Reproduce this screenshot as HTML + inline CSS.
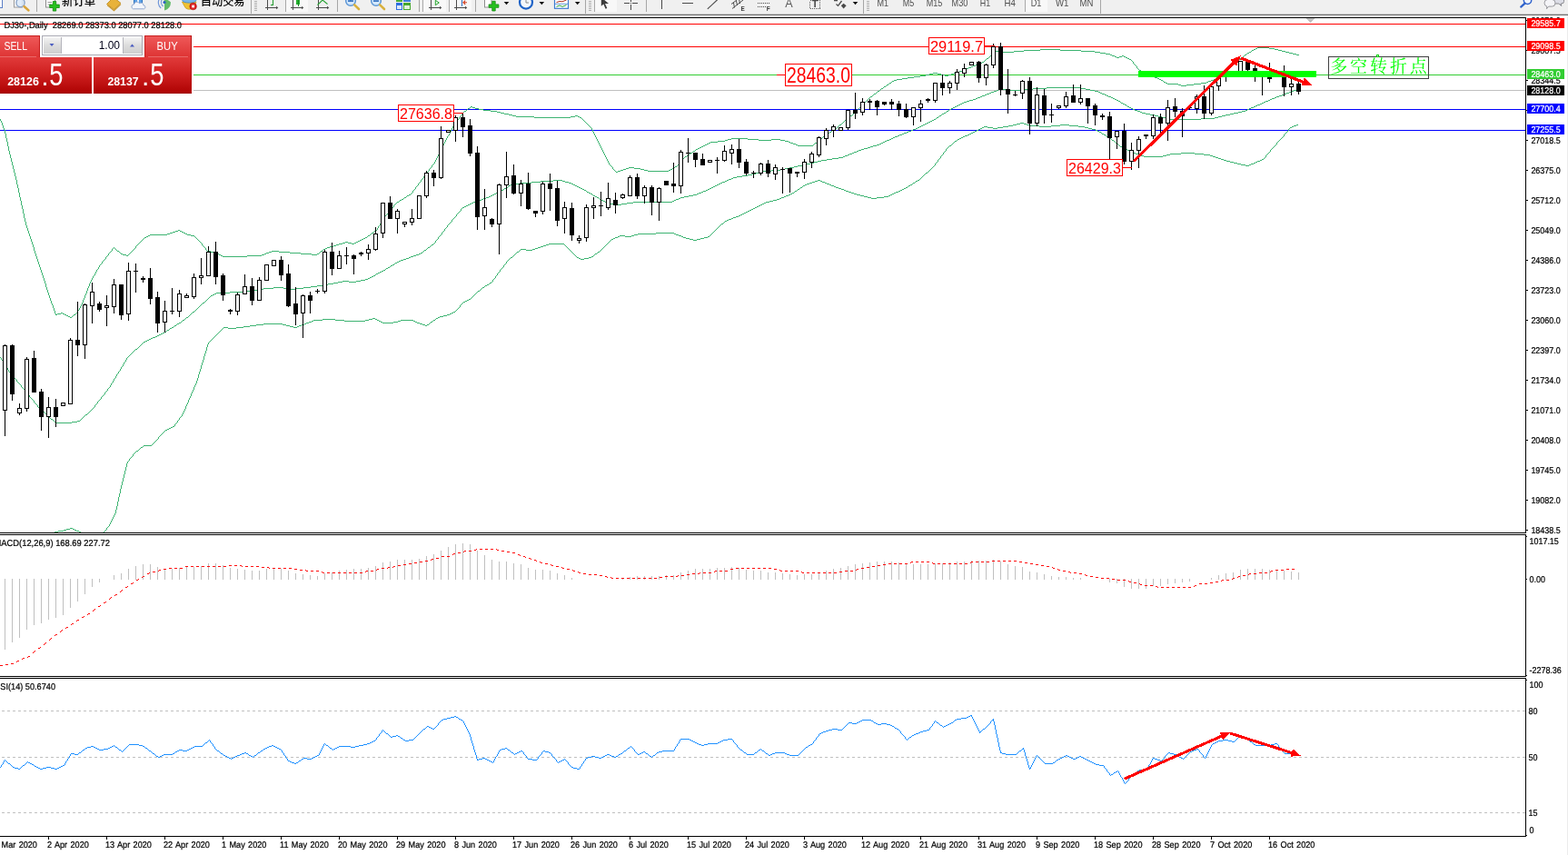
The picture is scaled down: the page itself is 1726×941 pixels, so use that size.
<!DOCTYPE html>
<html lang="zh"><head><meta charset="utf-8"><title>DJ30 Daily</title>
<style>html,body{margin:0;padding:0;background:#fff;}body{width:1726px;height:941px;overflow:hidden;position:relative;font-family:"Liberation Sans","Noto Sans CJK SC",sans-serif;}svg{display:block}</style>
</head><body>
<svg width="1726" height="941" viewBox="0 0 1726 941" style="position:absolute;left:0;top:0">
<defs><clipPath id="cm"><rect x="0" y="20" width="1679" height="566"/></clipPath><linearGradient id="rb" x1="0" y1="0" x2="0" y2="1"><stop offset="0" stop-color="#e13a3a"/><stop offset="0.45" stop-color="#cf2020"/><stop offset="1" stop-color="#ad0202"/></linearGradient><linearGradient id="rt" x1="0" y1="0" x2="0" y2="1"><stop offset="0" stop-color="#ef5a5a"/><stop offset="1" stop-color="#dd3232"/></linearGradient><linearGradient id="gb" x1="0" y1="0" x2="0" y2="1"><stop offset="0" stop-color="#f4f4f4"/><stop offset="0.5" stop-color="#dcdcdc"/><stop offset="1" stop-color="#cfcfcf"/></linearGradient></defs>
<rect x="0" y="0" width="1726" height="941" fill="#fff"/>
<g id="toolbar">
<rect x="0" y="0" width="1726" height="15" fill="#f0f0f0"/>
<rect x="315" y="0" width="24" height="13" fill="#f8f8f8" shape-rendering="crispEdges"/>
<rect x="314" y="0" width="1" height="13" fill="#a8a8a8" shape-rendering="crispEdges"/>
<rect x="466" y="0" width="25" height="13" fill="#f8f8f8" shape-rendering="crispEdges"/>
<rect x="465" y="0" width="1" height="13" fill="#a8a8a8" shape-rendering="crispEdges"/>
<rect x="495" y="0" width="24" height="13" fill="#f8f8f8" shape-rendering="crispEdges"/>
<rect x="494" y="0" width="1" height="13" fill="#a8a8a8" shape-rendering="crispEdges"/>
<rect x="655" y="0" width="24" height="13" fill="#f8f8f8" shape-rendering="crispEdges"/>
<rect x="654" y="0" width="1" height="13" fill="#a8a8a8" shape-rendering="crispEdges"/>
<rect x="1129" y="0" width="24" height="13" fill="#f8f8f8" shape-rendering="crispEdges"/>
<rect x="1128" y="0" width="1" height="13" fill="#a8a8a8" shape-rendering="crispEdges"/>
<g fill="#a6a6a6" shape-rendering="crispEdges">
<rect x="40" y="0" width="1" height="13"/>
<rect x="371" y="0" width="1" height="13"/>
<rect x="461" y="0" width="1" height="13"/>
<rect x="523" y="0" width="1" height="13"/>
<rect x="711" y="0" width="1" height="13"/>
<rect x="276" y="0" width="1" height="15"/>
<rect x="644" y="0" width="1" height="15"/>
<rect x="950" y="0" width="1" height="15"/>
<rect x="1211" y="0" width="1" height="15"/>
<rect x="280" y="1" width="3" height="1" fill="#b0b0b0"/>
<rect x="280" y="3" width="3" height="1" fill="#b0b0b0"/>
<rect x="280" y="5" width="3" height="1" fill="#b0b0b0"/>
<rect x="280" y="7" width="3" height="1" fill="#b0b0b0"/>
<rect x="280" y="9" width="3" height="1" fill="#b0b0b0"/>
<rect x="280" y="11" width="3" height="1" fill="#b0b0b0"/>
<rect x="648" y="1" width="3" height="1" fill="#b0b0b0"/>
<rect x="648" y="3" width="3" height="1" fill="#b0b0b0"/>
<rect x="648" y="5" width="3" height="1" fill="#b0b0b0"/>
<rect x="648" y="7" width="3" height="1" fill="#b0b0b0"/>
<rect x="648" y="9" width="3" height="1" fill="#b0b0b0"/>
<rect x="648" y="11" width="3" height="1" fill="#b0b0b0"/>
<rect x="954" y="1" width="3" height="1" fill="#b0b0b0"/>
<rect x="954" y="3" width="3" height="1" fill="#b0b0b0"/>
<rect x="954" y="5" width="3" height="1" fill="#b0b0b0"/>
<rect x="954" y="7" width="3" height="1" fill="#b0b0b0"/>
<rect x="954" y="9" width="3" height="1" fill="#b0b0b0"/>
<rect x="954" y="11" width="3" height="1" fill="#b0b0b0"/>
</g>
<rect x="-2" y="-2" width="4.5" height="10.5" fill="#fff" stroke="#5b7fc7" stroke-width="1"/>
<rect x="15.5" y="-3" width="9" height="11" fill="#fdfdfd" stroke="#9a9a9a" stroke-width="1"/>
<circle cx="22.5" cy="3" r="4.6" fill="#dbe9f8" fill-opacity="0.85" stroke="#8aa4c8" stroke-width="1.4"/>
<line x1="26.5" y1="7" x2="31.5" y2="11.5" stroke="#d9a43a" stroke-width="2.4" stroke-linecap="round"/>
<rect x="50.5" y="-3" width="10" height="11" fill="#fff" stroke="#8d8d8d" stroke-width="1"/>
<line x1="52.5" y1="2.5" x2="57" y2="2.5" stroke="#9a9a9a" stroke-width="1"/><line x1="52.5" y1="5" x2="56" y2="5" stroke="#9a9a9a" stroke-width="1"/>
<path d="M58.3 1.5h3.4v3.6h3.6v3.4h-3.6v3.6h-3.4v-3.6h-3.6v-3.4h3.6z" fill="#27c11f" stroke="#128a0e" stroke-width="0.8"/>
<text x="68" y="5.6" font-family="Liberation Sans, Noto Sans CJK SC, sans-serif" font-size="12.4" font-weight="500" fill="#000">新订单</text>
<path d="M117.5 4.5 L125 -3 L133 3.5 L125.5 10.5 Z" fill="#e8b23a" stroke="#b98718" stroke-width="0.8"/>
<path d="M118 5.6 L125.5 11.6 L133 4.6" fill="none" stroke="#c8952a" stroke-width="1.2"/>
<rect x="147.5" y="-3" width="9" height="7" fill="#5aa0e6" stroke="#2f73c0" stroke-width="1"/><rect x="151" y="-2" width="2" height="5" fill="#eaf3fd"/>
<path d="M146.5 9.8 a2.6 2.6 0 0 1 1-5 a3.2 3.2 0 0 1 6-1 a2.6 2.6 0 0 1 4.4 2 a2.1 2.1 0 0 1 0.8 4 z" fill="#f3f6fb" stroke="#8fa7cf" stroke-width="1"/>
<path d="M176 -2 a8 8 0 0 0 1.2 11" fill="none" stroke="#6f95d8" stroke-width="1.2"/><path d="M178.6 -1 a6 6 0 0 0 1 8" fill="none" stroke="#6f95d8" stroke-width="1.2"/>
<path d="M181 11.5 v-9 a3 3 0 0 1 0 -3 a9 9 0 0 1 7 3 a9.5 9.5 0 0 1 -7 9 z" fill="#3fae49" fill-opacity="0.8"/>
<circle cx="181" cy="2.5" r="1.6" fill="#2b62c4"/>
<path d="M200.5 2 L216 2 L213 8.5 Q208 12 204 8.5 Z" fill="#f1c232" stroke="#c99a17" stroke-width="0.8"/>
<ellipse cx="208.3" cy="0.5" rx="7.5" ry="2.6" fill="#79b6ea" stroke="#3f86cc" stroke-width="0.8"/>
<circle cx="212.6" cy="7" r="3.8" fill="#e02424" stroke="#a30f0f" stroke-width="0.6"/><rect x="211.2" y="5.6" width="2.8" height="2.8" fill="#fff"/>
<text x="220.8" y="5.6" font-family="Liberation Sans, Noto Sans CJK SC, sans-serif" font-size="12.2" font-weight="500" fill="#000">自动交易</text>
<g shape-rendering="crispEdges" fill="#4a4a4a"><rect x="294" y="0" width="1" height="11"/><rect x="292" y="8" width="13" height="1"/></g>
<polygon points="304,6.8 306.3,8.5 304,10.2" fill="#4a4a4a"/>
<g shape-rendering="crispEdges" fill="#1d9a2a"><rect x="300" y="0" width="1" height="6"/><rect x="298" y="5" width="3" height="1"/></g>
<g shape-rendering="crispEdges" fill="#4a4a4a"><rect x="322" y="0" width="1" height="11"/><rect x="320" y="8" width="13" height="1"/></g>
<polygon points="332,6.8 334.3,8.5 332,10.2" fill="#4a4a4a"/>
<g shape-rendering="crispEdges"><rect x="326" y="0" width="4" height="5" fill="#25b230" stroke="none"/><rect x="327.5" y="0" width="1" height="7" fill="#1d8a26"/></g>
<g shape-rendering="crispEdges" fill="#4a4a4a"><rect x="350" y="0" width="1" height="11"/><rect x="348" y="8" width="13" height="1"/></g>
<polygon points="360,6.8 362.3,8.5 360,10.2" fill="#4a4a4a"/>
<polyline points="349.5,5.5 355,0 360.5,4.5" fill="none" stroke="#2aa336" stroke-width="1.1"/>
<circle cx="386" cy="1" r="5.3" fill="#d4e8fb" stroke="#5e97d6" stroke-width="1.5"/>
<rect x="383" y="0.2" width="6" height="1.8" fill="#3c78c4"/>
<rect x="385.1" y="-2" width="1.8" height="4" fill="#3c78c4"/>
<line x1="390.2" y1="5.4" x2="395" y2="10" stroke="#d8b13e" stroke-width="2.6" stroke-linecap="round"/>
<circle cx="414" cy="1" r="5.3" fill="#d4e8fb" stroke="#5e97d6" stroke-width="1.5"/>
<rect x="411" y="0.2" width="6" height="1.8" fill="#3c78c4"/>
<line x1="418.2" y1="5.4" x2="423" y2="10" stroke="#d8b13e" stroke-width="2.6" stroke-linecap="round"/>
<g shape-rendering="crispEdges"><rect x="436" y="-3" width="7" height="5" fill="#4fae3a"/><rect x="444" y="-3" width="8" height="5" fill="#3f7fe0"/><rect x="436" y="3" width="7" height="8" fill="#2f6fe0"/><rect x="444" y="3" width="8" height="8" fill="#46a62e"/><rect x="437" y="6" width="5" height="4" fill="#dfe9fb"/><rect x="445" y="6" width="6" height="4" fill="#e3f3dc"/></g>
<g shape-rendering="crispEdges" fill="#4a4a4a"><rect x="474" y="0" width="1" height="11"/><rect x="472" y="8" width="13" height="1"/></g>
<polygon points="484,6.8 486.3,8.5 484,10.2" fill="#4a4a4a"/>
<polygon points="479.3,0.3 483.3,3 479.3,5.7" fill="#e9f7e6" stroke="#25a32f" stroke-width="1"/>
<g shape-rendering="crispEdges" fill="#4a4a4a"><rect x="502" y="0" width="1" height="11"/><rect x="500" y="8" width="13" height="1"/></g>
<polygon points="512,6.8 514.3,8.5 512,10.2" fill="#4a4a4a"/>
<rect x="508" y="0" width="1" height="7" fill="#2f6fc0" shape-rendering="crispEdges"/><path d="M514 2.7 H510.6 M512.2 0.6 L510 2.7 L512.2 4.8" fill="none" stroke="#d33a1a" stroke-width="1.1"/>
<rect x="533.5" y="-3" width="7.5" height="11" fill="#fff" stroke="#8d8d8d" stroke-width="1"/>
<path d="M541.8 1.3h3.4v3.6h3.7v3.4h-3.7v3.7h-3.4v-3.7h-3.7v-3.4h3.7z" fill="#27c11f" stroke="#128a0e" stroke-width="0.8"/>
<polygon points="554.7,2 560.3000000000001,2 557.5,5.2" fill="#101010"/>
<polygon points="593.5,2 599.1,2 596.3,5.2" fill="#101010"/>
<polygon points="632.9,2 638.5,2 635.6999999999999,5.2" fill="#101010"/>
<polygon points="938.7,2 944.3000000000001,2 941.5,5.2" fill="#101010"/>
<circle cx="579" cy="2.6" r="7" fill="#f4f7fb" stroke="#1f63c7" stroke-width="2.2"/><path d="M579 -1 V3 H582" fill="none" stroke="#8a8a8a" stroke-width="1"/>
<rect x="610.5" y="-3" width="15" height="12.3" fill="#fff" stroke="#3d7bd0" stroke-width="1.2"/><line x1="611" y1="4.3" x2="625" y2="4.3" stroke="#3d7bd0" stroke-width="0.8"/>
<polyline points="612.5,2.6 616,1.5 619,1.8 623.5,0" fill="none" stroke="#b0301c" stroke-width="1"/><polyline points="612.5,7.4 616,6 619,7.3 623.5,5.6" fill="none" stroke="#2aa336" stroke-width="1"/>
<path d="M661.8 -3 L661.8 6.8 L664.3 4.6 L666.6 9.8 L668.3 9 L666 4 L670 4 Z" fill="#3c3c3c"/>
<g shape-rendering="crispEdges" fill="#4a4a4a"><rect x="687" y="3" width="15" height="1"/><rect x="694" y="0" width="1" height="11"/><rect x="728" y="0" width="1" height="10"/><rect x="751" y="3" width="12" height="1"/></g>
<rect x="693" y="2" width="3" height="3" fill="#f0f0f0"/><rect x="694" y="3" width="1" height="1" fill="#4a4a4a"/>
<line x1="778.8" y1="9.8" x2="789.6" y2="-0.2" stroke="#4a4a4a" stroke-width="1.1"/>
<g stroke="#4a4a4a" stroke-width="1" fill="none"><line x1="805" y1="4.5" x2="813" y2="-1.5"/><line x1="806" y1="9.5" x2="818" y2="0"/><line x1="807.5" y1="3" x2="808.5" y2="8.5"/><line x1="810.5" y1="1" x2="811.5" y2="6"/><line x1="813.5" y1="-1" x2="814.5" y2="4"/></g>
<text x="815.6" y="11.8" font-family="Liberation Sans, Noto Sans CJK SC, sans-serif" font-size="6.4" font-weight="bold" fill="#3a3a3a">E</text>
<g stroke="#4a4a4a" stroke-width="1" stroke-dasharray="1,1" shape-rendering="crispEdges"><line x1="834" y1="3.5" x2="847" y2="3.5"/><line x1="834" y1="7.5" x2="843" y2="7.5"/></g>
<text x="843.7" y="11.8" font-family="Liberation Sans, Noto Sans CJK SC, sans-serif" font-size="6.4" font-weight="bold" fill="#3a3a3a">F</text>
<text x="864.2" y="7.5" font-family="Liberation Sans, Noto Sans CJK SC, sans-serif" font-size="12.6" fill="#5a5a5a">A</text>
<rect x="891.5" y="0.5" width="11" height="9" fill="none" stroke="#5a5a5a" stroke-width="1" stroke-dasharray="1,1" shape-rendering="crispEdges"/>
<text x="897" y="7.6" font-family="Liberation Sans, Noto Sans CJK SC, sans-serif" font-size="11" font-weight="bold" fill="#4a4a4a" text-anchor="middle">T</text>
<path d="M918 0.5 L922 0.5 M920.5 4.6 L922.5 6.4 L926.5 1" fill="none" stroke="#4a4a4a" stroke-width="1.3"/><polygon points="925.8,6.2 928.6,3.8 931.6,6.2 928.6,9.4" fill="#4a4a4a"/>
<text x="965.5" y="7" font-family="Liberation Sans, Noto Sans CJK SC, sans-serif" font-size="11" fill="#4e4e4e" textLength="12.6" lengthAdjust="spacingAndGlyphs">M1</text>
<text x="993.7" y="7" font-family="Liberation Sans, Noto Sans CJK SC, sans-serif" font-size="11" fill="#4e4e4e" textLength="12.4" lengthAdjust="spacingAndGlyphs">M5</text>
<text x="1019.7" y="7" font-family="Liberation Sans, Noto Sans CJK SC, sans-serif" font-size="11" fill="#4e4e4e" textLength="17.6" lengthAdjust="spacingAndGlyphs">M15</text>
<text x="1047.6" y="7" font-family="Liberation Sans, Noto Sans CJK SC, sans-serif" font-size="11" fill="#4e4e4e" textLength="17.7" lengthAdjust="spacingAndGlyphs">M30</text>
<text x="1078.7" y="7" font-family="Liberation Sans, Noto Sans CJK SC, sans-serif" font-size="11" fill="#4e4e4e" textLength="11.4" lengthAdjust="spacingAndGlyphs">H1</text>
<text x="1105.6" y="7" font-family="Liberation Sans, Noto Sans CJK SC, sans-serif" font-size="11" fill="#4e4e4e" textLength="12.3" lengthAdjust="spacingAndGlyphs">H4</text>
<text x="1134.7" y="7" font-family="Liberation Sans, Noto Sans CJK SC, sans-serif" font-size="11" fill="#4e4e4e" textLength="11.7" lengthAdjust="spacingAndGlyphs">D1</text>
<text x="1161.9" y="7" font-family="Liberation Sans, Noto Sans CJK SC, sans-serif" font-size="11" fill="#4e4e4e" textLength="14.5" lengthAdjust="spacingAndGlyphs">W1</text>
<text x="1188.5" y="7" font-family="Liberation Sans, Noto Sans CJK SC, sans-serif" font-size="11" fill="#4e4e4e" textLength="14.8" lengthAdjust="spacingAndGlyphs">MN</text>
<circle cx="1681.5" cy="0.3" r="4.2" fill="#f0f4fb" stroke="#2f62cc" stroke-width="1.5"/><line x1="1678.6" y1="3.6" x2="1674.2" y2="7.6" stroke="#2f62cc" stroke-width="2.2" stroke-linecap="round"/>
<path d="M1709 -3 h10 a2.5 2.5 0 0 1 2.5 2.5 v2 a2.5 2.5 0 0 1 -2.5 2.5 h-1 l0.8 2.5 l-3 -2.5 h-6.8 z" fill="#dcdde6" stroke="#7f7f84" stroke-width="0.9"/>
<path d="M1703.5 -0.5 h5 a3.4 3.4 0 0 1 3.4 3.4 v0.8 a3.4 3.4 0 0 1 -3.4 3.4 h-3.8 l-2.2 2.6 l0.3 -2.7 a3.4 3.4 0 0 1 -2.7 -3.3 v-0.8 a3.4 3.4 0 0 1 3.4 -3.4 z" fill="#f4f4f7" stroke="#8f8f94" stroke-width="0.9"/>
<rect x="0" y="15" width="1726" height="1" fill="#c6c6c6" shape-rendering="crispEdges"/>
<rect x="0" y="16" width="1726" height="1" fill="#6e6e6e" shape-rendering="crispEdges"/>
</g>
<g shape-rendering="crispEdges">
<rect x="1725" y="17" width="1" height="924" fill="#ececec"/>
<rect x="0" y="19" width="1680" height="1" fill="#000"/>
<rect x="0" y="586" width="1680" height="1" fill="#000"/>
<rect x="0" y="588" width="1680" height="1" fill="#000"/>
<rect x="0" y="744" width="1680" height="1" fill="#000"/>
<rect x="0" y="746" width="1680" height="1" fill="#000"/>
<rect x="0" y="920" width="1680" height="1" fill="#000"/>
<rect x="1679" y="19" width="1" height="568" fill="#000"/>
<rect x="1679" y="588" width="1" height="157" fill="#000"/>
<rect x="1679" y="746" width="1" height="175" fill="#000"/>
<rect x="0" y="26" width="1679" height="1" fill="#ff0000"/>
<rect x="0" y="51" width="1679" height="1" fill="#ff0000"/>
<rect x="0" y="82" width="1679" height="1" fill="#32cd32"/>
<rect x="855" y="82" width="10" height="1" fill="#ff0000"/>
<rect x="0" y="99" width="1679" height="1" fill="#c0c0c0"/>
<rect x="0" y="120" width="1679" height="1" fill="#0000ff"/>
<rect x="0" y="143" width="1679" height="1" fill="#0000ff"/>
<polygon points="1437,20 1447,20 1442,25" fill="#c0c0c0"/>
</g>
<path d="M1384 52.5h13M1382 53.5h2M1397 53.5h6M1145 54.5h22M1380 54.5h2M1403 54.5h4M1127 55.5h18M1167 55.5h23M1378 55.5h2M1407 55.5h4M1095 56.5h8M1116 56.5h11M1190 56.5h15M1411 56.5h4M1103 57.5h13M1205 57.5h6M1375 57.5h2M1415 57.5h4M1211 58.5h6M1373 58.5h2M1419 58.5h4M1217 59.5h5M1423 59.5h4M1222 60.5h2M1370 60.5h2M1427 60.5h3M1224 61.5h3M1235 61.5h2M1227 62.5h2M1232 62.5h3M1237 62.5h2M1229 63.5h3M1239 63.5h2M1366 63.5h2M1086 64.5h2M1241 64.5h2M1243 65.5h2M1081 68.5h2M1360 68.5h2M1079 69.5h2M1076 70.5h3M1074 71.5h2M1071 72.5h3M1069 73.5h2M1354 73.5h2M1066 74.5h3M1064 75.5h2M1061 76.5h3M1059 77.5h2M1254 77.5h2M1056 78.5h3M1348 78.5h2M1053 79.5h3M1027 80.5h5M1050 80.5h3M1258 80.5h2M1023 81.5h4M1032 81.5h4M1047 81.5h3M1260 81.5h2M1019 82.5h4M1036 82.5h4M1044 82.5h3M1262 82.5h3M1013 83.5h6M1040 83.5h4M1265 83.5h3M1342 83.5h2M1006 84.5h7M1268 84.5h3M999 85.5h7M1271 85.5h3M993 86.5h6M1274 86.5h2M1338 86.5h2M987 87.5h6M1276 87.5h2M1336 87.5h2M984 88.5h3M1278 88.5h2M1333 88.5h3M982 89.5h2M1330 89.5h3M1281 90.5h2M1328 90.5h2M979 91.5h2M1283 91.5h2M1322 91.5h6M1285 92.5h12M1314 92.5h8M976 93.5h2M1297 93.5h3M1306 93.5h8M1300 94.5h6M973 95.5h2M1152 96.5h38M970 97.5h2M1137 97.5h15M1190 97.5h5M1099 98.5h12M1127 98.5h10M1195 98.5h5M1427 98.5h2M1097 99.5h2M1111 99.5h16M1200 99.5h5M1424 99.5h3M966 100.5h2M1094 100.5h3M1205 100.5h4M1421 100.5h3M1091 101.5h3M1209 101.5h2M1419 101.5h2M1089 102.5h2M1211 102.5h2M1416 102.5h3M962 103.5h2M1086 103.5h3M1213 103.5h3M1413 103.5h3M1084 104.5h2M1216 104.5h2M1411 104.5h2M1081 105.5h3M1218 105.5h2M1408 105.5h3M958 106.5h2M1079 106.5h2M1220 106.5h3M1405 106.5h3M1076 107.5h3M1223 107.5h2M1403 107.5h2M1074 108.5h2M1225 108.5h2M1400 108.5h3M1071 109.5h3M1227 109.5h2M1398 109.5h2M1067 110.5h4M1229 110.5h2M1396 110.5h2M1064 111.5h3M1231 111.5h2M1393 111.5h3M1061 112.5h3M1391 112.5h2M1059 113.5h2M1234 113.5h2M1389 113.5h2M1057 114.5h2M1236 114.5h2M1387 114.5h2M1055 115.5h2M1238 115.5h2M1384 115.5h3M1053 116.5h2M1382 116.5h2M518 117.5h2M1051 117.5h2M1241 117.5h2M1380 117.5h2M520 118.5h3M1049 118.5h2M1243 118.5h2M1377 118.5h3M515 119.5h2M523 119.5h4M1047 119.5h2M1245 119.5h2M1375 119.5h2M527 120.5h5M1045 120.5h2M1247 120.5h2M1373 120.5h2M532 121.5h8M1249 121.5h3M1371 121.5h2M511 122.5h2M540 122.5h7M1042 122.5h2M1252 122.5h3M1367 122.5h4M547 123.5h4M1255 123.5h2M1363 123.5h4M551 124.5h4M1039 124.5h2M1257 124.5h4M1358 124.5h5M555 125.5h5M1037 125.5h2M1261 125.5h5M1354 125.5h4M560 126.5h4M1266 126.5h5M1349 126.5h5M564 127.5h4M633 127.5h3M936 127.5h2M1034 127.5h2M1271 127.5h4M1345 127.5h4M568 128.5h20M628 128.5h5M636 128.5h2M1275 128.5h4M1341 128.5h4M588 129.5h40M638 129.5h2M1031 129.5h2M1279 129.5h4M1337 129.5h4M1283 130.5h4M1322 130.5h15M1028 131.5h2M1287 131.5h35M930 132.5h2M1026 132.5h2M1024 133.5h2M1022 134.5h2M1020 135.5h2M1123 135.5h4M1018 136.5h2M1119 136.5h4M1127 136.5h3M924 137.5h2M1016 137.5h2M1115 137.5h4M1130 137.5h4M1167 137.5h10M1427 137.5h2M1014 138.5h2M1110 138.5h5M1134 138.5h10M1157 138.5h10M1177 138.5h10M1424 138.5h3M1012 139.5h2M1083 139.5h4M1104 139.5h6M1144 139.5h13M1187 139.5h7M1422 139.5h2M1010 140.5h2M1081 140.5h2M1087 140.5h6M1098 140.5h6M1194 140.5h4M1420 140.5h2M919 141.5h2M1008 141.5h2M1079 141.5h2M1093 141.5h5M1198 141.5h4M1005 142.5h3M1077 142.5h2M1202 142.5h4M916 143.5h2M1003 143.5h2M1075 143.5h2M1206 143.5h2M1000 144.5h3M1073 144.5h2M1208 144.5h2M913 145.5h2M998 145.5h2M1071 145.5h2M1210 145.5h2M995 146.5h3M1069 146.5h2M910 147.5h2M993 147.5h2M1067 147.5h2M1213 147.5h2M990 148.5h3M1065 148.5h2M1215 148.5h2M907 149.5h2M988 149.5h2M1062 149.5h3M985 150.5h3M1060 150.5h2M1218 150.5h2M983 151.5h2M1058 151.5h2M1220 151.5h2M805 152.5h18M903 152.5h2M981 152.5h2M1056 152.5h2M801 153.5h4M823 153.5h12M849 153.5h10M979 153.5h2M1054 153.5h2M798 154.5h3M835 154.5h14M859 154.5h5M976 154.5h3M1224 154.5h2M790 155.5h8M864 155.5h4M974 155.5h2M1051 155.5h2M782 156.5h8M868 156.5h2M972 156.5h2M780 157.5h2M870 157.5h3M897 157.5h2M970 157.5h2M778 158.5h2M873 158.5h3M968 158.5h2M1229 158.5h2M776 159.5h2M876 159.5h2M965 159.5h3M774 160.5h2M878 160.5h17M961 160.5h4M1045 160.5h2M772 161.5h2M958 161.5h3M1233 161.5h2M770 162.5h2M955 162.5h3M1235 162.5h2M768 163.5h2M951 163.5h4M1237 163.5h2M766 164.5h2M948 164.5h3M1239 164.5h2M945 165.5h3M1241 165.5h2M763 166.5h2M943 166.5h2M1243 166.5h2M940 167.5h3M1245 167.5h2M760 168.5h2M938 168.5h2M1247 168.5h3M1300 168.5h15M935 169.5h3M1250 169.5h3M1288 169.5h12M1315 169.5h10M757 170.5h2M933 170.5h2M1253 170.5h3M1284 170.5h4M1325 170.5h7M930 171.5h3M1256 171.5h3M1280 171.5h4M1332 171.5h3M754 172.5h2M928 172.5h2M1259 172.5h21M1335 172.5h3M923 173.5h5M1338 173.5h3M916 174.5h7M1341 174.5h3M910 175.5h6M1344 175.5h3M1389 175.5h2M904 176.5h6M1347 176.5h3M1387 176.5h2M900 177.5h4M1350 177.5h4M1384 177.5h3M896 178.5h4M1354 178.5h4M1382 178.5h2M892 179.5h4M1358 179.5h4M1380 179.5h2M887 180.5h5M1362 180.5h4M1377 180.5h3M883 181.5h4M1366 181.5h5M1375 181.5h2M878 182.5h5M1371 182.5h4M743 183.5h2M874 183.5h4M692 184.5h6M741 184.5h2M869 184.5h5M689 185.5h3M698 185.5h7M864 185.5h5M686 186.5h3M705 186.5h4M738 186.5h2M859 186.5h5M683 187.5h3M709 187.5h4M736 187.5h2M849 187.5h10M680 188.5h3M713 188.5h23M840 188.5h9M678 189.5h2M836 189.5h4M832 190.5h4M1019 190.5h2M828 191.5h4M823 192.5h5M817 193.5h6M811 194.5h6M807 195.5h4M805 196.5h2M802 197.5h3M609 198.5h10M800 198.5h2M900 198.5h3M1010 198.5h2M595 199.5h14M619 199.5h3M798 199.5h2M897 199.5h3M903 199.5h2M1008 199.5h2M585 200.5h10M622 200.5h4M795 200.5h3M894 200.5h3M905 200.5h3M572 201.5h13M626 201.5h3M793 201.5h2M891 201.5h3M908 201.5h2M1005 201.5h2M564 202.5h8M629 202.5h2M791 202.5h2M888 202.5h3M910 202.5h3M562 203.5h2M631 203.5h2M789 203.5h2M886 203.5h2M913 203.5h2M1002 203.5h2M560 204.5h2M633 204.5h2M787 204.5h2M884 204.5h2M915 204.5h3M1000 204.5h2M635 205.5h2M785 205.5h2M918 205.5h2M557 206.5h2M637 206.5h2M783 206.5h2M881 206.5h2M920 206.5h3M997 206.5h2M555 207.5h2M639 207.5h2M781 207.5h2M923 207.5h3M995 207.5h2M641 208.5h2M779 208.5h2M878 208.5h2M926 208.5h3M993 208.5h2M552 209.5h2M643 209.5h2M777 209.5h2M929 209.5h2M991 209.5h2M550 210.5h2M774 210.5h3M875 210.5h2M931 210.5h3M989 210.5h2M548 211.5h2M646 211.5h2M772 211.5h2M934 211.5h3M986 211.5h3M546 212.5h2M648 212.5h2M769 212.5h3M872 212.5h2M937 212.5h3M984 212.5h2M544 213.5h2M650 213.5h2M767 213.5h2M870 213.5h2M940 213.5h3M982 213.5h2M450 214.5h2M542 214.5h2M763 214.5h4M868 214.5h2M943 214.5h4M980 214.5h2M448 215.5h2M540 215.5h2M653 215.5h2M758 215.5h5M865 215.5h3M947 215.5h4M978 215.5h2M538 216.5h2M655 216.5h2M753 216.5h5M863 216.5h2M951 216.5h4M973 216.5h5M445 217.5h2M535 217.5h3M657 217.5h2M749 217.5h4M860 217.5h3M955 217.5h4M965 217.5h8M532 218.5h3M747 218.5h2M858 218.5h2M959 218.5h6M442 219.5h2M530 219.5h2M660 219.5h2M744 219.5h3M855 219.5h3M440 220.5h2M527 220.5h3M662 220.5h2M742 220.5h2M851 220.5h4M524 221.5h3M664 221.5h2M740 221.5h2M847 221.5h4M437 222.5h2M521 222.5h3M666 222.5h2M697 222.5h43M843 222.5h4M519 223.5h2M668 223.5h3M690 223.5h7M841 223.5h2M517 224.5h2M671 224.5h6M684 224.5h6M839 224.5h2M515 225.5h2M677 225.5h7M837 225.5h2M513 226.5h2M835 226.5h2M511 227.5h2M833 227.5h2M509 228.5h2M831 228.5h2M829 229.5h2M827 230.5h2M825 231.5h2M823 232.5h2M821 233.5h2M819 234.5h2M817 235.5h2M815 236.5h2M813 237.5h2M810 238.5h3M807 239.5h3M805 240.5h2M802 241.5h3M800 242.5h2M798 243.5h2M794 246.5h2M196 253.5h2M193 254.5h3M198 254.5h2M412 254.5h2M190 255.5h3M200 255.5h2M187 256.5h3M202 256.5h2M409 256.5h2M722 256.5h20M184 257.5h3M204 257.5h2M702 257.5h20M742 257.5h2M165 258.5h19M206 258.5h4M698 258.5h4M744 258.5h3M163 259.5h2M210 259.5h4M405 259.5h2M682 259.5h6M695 259.5h3M747 259.5h3M161 260.5h2M680 260.5h2M688 260.5h7M750 260.5h2M779 260.5h2M159 261.5h2M402 261.5h2M677 261.5h3M752 261.5h3M775 261.5h4M400 262.5h2M675 262.5h2M755 262.5h4M771 262.5h4M398 263.5h2M673 263.5h2M759 263.5h4M767 263.5h4M396 264.5h2M763 264.5h4M394 265.5h2M380 266.5h3M392 266.5h2M377 267.5h3M383 267.5h4M390 267.5h2M373 268.5h4M387 268.5h3M604 268.5h17M370 269.5h3M475 269.5h2M601 269.5h3M367 270.5h3M598 270.5h3M363 271.5h4M595 271.5h3M360 272.5h3M471 272.5h2M592 272.5h3M358 273.5h2M589 273.5h3M356 274.5h2M573 274.5h6M586 274.5h3M467 275.5h2M579 275.5h7M129 276.5h2M228 276.5h4M299 276.5h8M353 276.5h2M232 277.5h5M296 277.5h3M307 277.5h12M569 277.5h2M658 277.5h2M237 278.5h2M293 278.5h3M319 278.5h12M463 278.5h2M133 279.5h2M239 279.5h2M291 279.5h2M331 279.5h12M349 279.5h2M461 279.5h2M655 279.5h2M135 280.5h4M241 280.5h2M288 280.5h3M343 280.5h6M458 280.5h3M139 281.5h2M243 281.5h2M272 281.5h16M455 281.5h3M245 282.5h27M452 282.5h3M651 282.5h2M450 283.5h2M562 283.5h2M635 283.5h2M648 283.5h3M447 284.5h3M637 284.5h2M643 284.5h5M444 285.5h3M639 285.5h4M441 286.5h3M439 287.5h2M437 288.5h2M435 289.5h2M432 291.5h2M430 292.5h2M427 294.5h2M425 295.5h2M422 297.5h2M420 298.5h2M418 299.5h2M416 300.5h2M414 301.5h2M411 303.5h2M409 304.5h2M407 305.5h2M405 306.5h2M402 307.5h3M397 308.5h5M377 309.5h7M392 309.5h5M372 310.5h5M384 310.5h8M367 311.5h5M539 311.5h2M361 312.5h6M355 313.5h6M536 313.5h2M349 314.5h6M534 314.5h2M342 315.5h7M301 316.5h11M334 316.5h8M531 316.5h2M290 317.5h11M312 317.5h6M326 317.5h8M283 318.5h7M318 318.5h8M277 319.5h6M270 320.5h7M526 320.5h2M253 321.5h17M238 322.5h15M236 323.5h2M234 324.5h2M232 325.5h2M516 329.5h2M514 330.5h2M512 331.5h2M510 332.5h2M223 333.5h2M212 343.5h2M499 343.5h2M67 344.5h2M497 344.5h2M63 345.5h4M69 345.5h2M495 345.5h2M61 346.5h2M71 346.5h2M81 346.5h2M492 346.5h3M73 347.5h2M488 347.5h4M75 348.5h2M484 348.5h4M77 349.5h2M205 349.5h2M482 349.5h2M410 350.5h3M480 350.5h2M355 351.5h14M406 351.5h4M413 351.5h2M201 352.5h2M345 352.5h10M369 352.5h10M402 352.5h4M415 352.5h2M441 352.5h14M477 352.5h2M343 353.5h2M379 353.5h23M417 353.5h2M438 353.5h3M455 353.5h2M340 354.5h3M419 354.5h2M433 354.5h5M457 354.5h2M474 354.5h2M197 355.5h2M337 355.5h3M421 355.5h12M459 355.5h3M195 356.5h2M290 356.5h21M335 356.5h2M462 356.5h3M282 357.5h8M311 357.5h4M332 357.5h3M465 357.5h3M470 357.5h2M192 358.5h2M275 358.5h7M315 358.5h4M329 358.5h3M468 358.5h2M268 359.5h7M319 359.5h4M327 359.5h2M189 360.5h2M246 360.5h5M260 360.5h8M323 360.5h4M187 361.5h2M251 361.5h9M184 363.5h2M181 365.5h2M179 366.5h2M177 367.5h2M175 368.5h2M173 369.5h2M171 370.5h2M168 371.5h3M166 372.5h2M164 373.5h2M162 374.5h2M160 375.5h2M158 376.5h2M149 384.5h2M47 453.5h2M94 456.5h2M56 461.5h2M85 463.5h3M79 464.5h6M61 465.5h18M190 469.5h2M188 470.5h2M186 471.5h2M184 472.5h2M182 473.5h2M158 490.5h9M155 492.5h2M150 496.5h2M77 581.5h3M73 582.5h4M80 582.5h2M70 583.5h3M82 583.5h2M64 584.5h6M84 584.5h3M60 585.5h4M87 585.5h2M0.5 131v2M0.5 393v1M1.5 133v2M1.5 394v2M2.5 135v3M2.5 396v1M3.5 138v3M3.5 397v2M4.5 141v2M4.5 399v2M5.5 143v4M5.5 401v1M6.5 147v5M6.5 402v2M7.5 152v4M7.5 404v1M8.5 156v5M8.5 405v2M9.5 161v5M9.5 407v2M10.5 166v4M10.5 409v1M11.5 170v4M11.5 410v1M12.5 174v4M12.5 411v1M13.5 178v4M13.5 412v2M14.5 182v4M14.5 414v1M15.5 186v4M15.5 415v1M16.5 190v4M16.5 416v1M17.5 194v4M17.5 417v1M18.5 198v5M18.5 418v2M19.5 203v4M19.5 420v1M20.5 207v5M20.5 421v1M21.5 212v5M21.5 422v1M22.5 217v4M22.5 423v1M23.5 221v5M23.5 424v2M24.5 226v4M24.5 426v1M25.5 230v5M25.5 427v1M26.5 235v5M26.5 428v1M27.5 240v4M27.5 429v1M28.5 244v4M28.5 430v2M29.5 248v3M29.5 432v1M30.5 251v3M30.5 433v1M31.5 254v3M31.5 434v1M32.5 257v3M32.5 435v2M33.5 260v3M33.5 437v1M34.5 263v3M34.5 438v1M35.5 266v3M35.5 439v1M36.5 269v3M36.5 440v1M37.5 272v4M37.5 441v2M38.5 276v3M38.5 443v1M39.5 279v3M39.5 444v1M40.5 282v3M40.5 445v1M41.5 285v3M41.5 446v2M42.5 288v3M42.5 448v1M43.5 291v3M43.5 449v1M44.5 294v3M44.5 450v1M45.5 297v3M45.5 451v1M46.5 300v3M46.5 452v1M47.5 303v3M48.5 306v3M49.5 309v3M49.5 454v1M50.5 312v4M50.5 455v1M51.5 316v3M51.5 456v1M52.5 319v3M52.5 457v1M53.5 322v3M53.5 458v1M54.5 325v3M54.5 459v1M55.5 328v3M55.5 460v1M56.5 331v3M57.5 334v2M58.5 336v3M58.5 462v1M59.5 339v3M59.5 463v1M60.5 342v3M60.5 464v1M61.5 345v1M79.5 348v1M80.5 347v1M83.5 345v1M84.5 344v1M85.5 342v2M86.5 341v1M87.5 339v2M88.5 337v2M88.5 462v1M89.5 335v2M89.5 461v1M90.5 333v2M90.5 460v1M91.5 330v3M91.5 459v1M92.5 328v2M92.5 458v1M93.5 325v3M93.5 457v1M94.5 323v2M95.5 320v3M96.5 317v3M96.5 455v1M97.5 315v2M97.5 454v1M98.5 312v3M98.5 453v1M99.5 310v2M99.5 452v1M100.5 308v2M100.5 451v1M101.5 306v2M101.5 450v1M102.5 304v2M102.5 449v1M103.5 303v1M103.5 448v1M104.5 301v2M104.5 446v2M105.5 299v2M105.5 445v1M106.5 297v2M106.5 444v1M107.5 296v1M107.5 442v2M108.5 294v2M108.5 441v1M109.5 292v2M109.5 440v1M110.5 291v1M110.5 439v1M111.5 290v1M111.5 437v2M112.5 288v2M112.5 436v1M113.5 287v1M113.5 435v1M114.5 286v1M114.5 434v1M114.5 585v1M115.5 285v1M115.5 432v2M115.5 584v1M116.5 283v2M116.5 431v1M116.5 583v1M117.5 282v1M117.5 430v1M117.5 581v2M118.5 281v1M118.5 428v2M118.5 580v1M119.5 279v2M119.5 427v1M119.5 579v1M120.5 278v1M120.5 426v1M120.5 577v2M121.5 277v1M121.5 424v2M121.5 575v2M122.5 276v1M122.5 422v2M122.5 573v2M123.5 274v2M123.5 421v1M123.5 571v2M124.5 273v1M124.5 419v2M124.5 569v2M125.5 272v1M125.5 417v2M125.5 567v2M126.5 273v1M126.5 416v1M126.5 565v2M127.5 274v1M127.5 414v2M127.5 561v4M128.5 275v1M128.5 412v2M128.5 557v4M129.5 411v1M129.5 552v5M130.5 409v2M130.5 547v5M131.5 277v1M131.5 408v1M131.5 543v4M132.5 278v1M132.5 406v2M132.5 538v5M133.5 404v2M133.5 534v4M134.5 403v1M134.5 530v4M135.5 401v2M135.5 526v4M136.5 399v2M136.5 522v4M137.5 398v1M137.5 518v4M138.5 396v2M138.5 514v4M139.5 394v2M139.5 510v4M140.5 393v1M140.5 508v2M141.5 280v1M141.5 392v1M141.5 507v1M142.5 279v1M142.5 391v1M142.5 505v2M143.5 278v1M143.5 390v1M143.5 504v1M144.5 277v1M144.5 389v1M144.5 503v1M145.5 276v1M145.5 388v1M145.5 502v1M146.5 275v1M146.5 387v1M146.5 500v2M147.5 274v1M147.5 386v1M147.5 499v1M148.5 273v1M148.5 385v1M148.5 498v1M149.5 271v2M149.5 497v1M150.5 270v1M151.5 269v1M151.5 383v1M152.5 268v1M152.5 382v1M152.5 495v1M153.5 267v1M153.5 381v1M153.5 494v1M154.5 266v1M154.5 380v1M154.5 493v1M155.5 265v1M155.5 379v1M156.5 264v1M156.5 378v1M157.5 263v1M157.5 377v1M157.5 491v1M158.5 262v1M167.5 489v1M168.5 488v1M169.5 487v1M170.5 486v1M171.5 485v1M172.5 484v1M173.5 483v1M174.5 481v2M175.5 480v1M176.5 479v1M177.5 478v1M178.5 477v1M179.5 476v1M180.5 475v1M181.5 474v1M183.5 364v1M186.5 362v1M191.5 359v1M192.5 467v2M193.5 466v1M194.5 357v1M194.5 465v1M195.5 463v2M196.5 462v1M197.5 460v2M198.5 459v1M199.5 354v1M199.5 458v1M200.5 353v1M200.5 456v2M201.5 454v2M202.5 452v2M203.5 351v1M203.5 450v2M204.5 350v1M204.5 447v3M205.5 445v2M206.5 443v2M207.5 348v1M207.5 440v3M208.5 347v1M208.5 438v2M209.5 346v1M209.5 436v2M210.5 345v1M210.5 433v3M211.5 344v1M211.5 431v2M212.5 429v2M213.5 426v3M214.5 260v1M214.5 342v1M214.5 424v2M215.5 261v1M215.5 341v1M215.5 422v2M216.5 262v1M216.5 340v1M216.5 419v3M217.5 263v1M217.5 339v1M217.5 416v3M218.5 264v1M218.5 338v1M218.5 412v4M219.5 265v1M219.5 337v1M219.5 409v3M220.5 266v1M220.5 336v1M220.5 406v3M221.5 267v1M221.5 335v1M221.5 402v4M222.5 268v2M222.5 334v1M222.5 399v3M223.5 270v1M223.5 396v3M224.5 271v1M224.5 392v4M225.5 272v1M225.5 332v1M225.5 389v3M226.5 273v2M226.5 331v1M226.5 386v3M227.5 275v1M227.5 330v1M227.5 382v4M228.5 329v1M228.5 379v3M229.5 328v1M229.5 377v2M230.5 327v1M230.5 376v1M231.5 326v1M231.5 375v1M232.5 374v1M233.5 373v1M234.5 372v1M235.5 371v1M236.5 370v1M237.5 369v1M238.5 368v1M239.5 367v1M240.5 366v1M241.5 365v1M242.5 364v1M243.5 363v1M244.5 362v1M245.5 361v1M351.5 278v1M352.5 277v1M355.5 275v1M404.5 260v1M407.5 258v1M408.5 257v1M411.5 255v1M413.5 302v1M414.5 253v1M415.5 251v2M416.5 249v2M417.5 248v1M418.5 246v2M419.5 244v2M420.5 243v1M421.5 241v2M422.5 240v1M423.5 238v2M424.5 237v1M424.5 296v1M425.5 236v1M426.5 235v1M427.5 233v2M428.5 232v1M429.5 231v1M429.5 293v1M430.5 230v1M431.5 229v1M432.5 228v1M433.5 226v2M434.5 225v1M434.5 290v1M435.5 224v1M436.5 223v1M439.5 221v1M444.5 218v1M447.5 216v1M452.5 213v1M453.5 212v1M454.5 210v2M455.5 209v1M456.5 208v1M457.5 206v2M458.5 205v1M459.5 204v1M460.5 202v2M461.5 201v1M462.5 200v1M463.5 198v2M464.5 197v1M465.5 196v1M465.5 277v1M466.5 194v2M466.5 276v1M467.5 193v1M468.5 192v1M469.5 190v2M469.5 274v1M470.5 189v1M470.5 273v1M471.5 188v1M472.5 186v2M472.5 356v1M473.5 185v1M473.5 271v1M473.5 355v1M474.5 184v1M474.5 270v1M475.5 182v2M476.5 181v1M476.5 353v1M477.5 180v1M477.5 268v1M478.5 178v2M478.5 267v1M479.5 176v2M479.5 265v2M479.5 351v1M480.5 174v2M480.5 264v1M481.5 172v2M481.5 263v1M482.5 170v2M482.5 261v2M483.5 168v2M483.5 260v1M484.5 166v2M484.5 259v1M485.5 164v2M485.5 258v1M486.5 162v2M486.5 256v2M487.5 160v2M487.5 255v1M488.5 158v2M488.5 254v1M489.5 156v2M489.5 252v2M490.5 154v2M490.5 251v1M491.5 152v2M491.5 250v1M492.5 150v2M492.5 248v2M493.5 149v1M493.5 247v1M494.5 147v2M494.5 246v1M495.5 145v2M495.5 245v1M496.5 143v2M496.5 244v1M497.5 141v2M497.5 242v2M498.5 139v2M498.5 241v1M499.5 138v1M499.5 240v1M500.5 136v2M500.5 239v1M501.5 135v1M501.5 238v1M501.5 342v1M502.5 134v1M502.5 236v2M502.5 341v1M503.5 132v2M503.5 235v1M503.5 340v1M504.5 131v1M504.5 234v1M504.5 339v1M505.5 129v2M505.5 233v1M505.5 338v1M506.5 128v1M506.5 232v1M506.5 336v2M507.5 127v1M507.5 230v2M507.5 335v1M508.5 125v2M508.5 229v1M508.5 334v1M509.5 124v1M509.5 333v1M510.5 123v1M513.5 121v1M514.5 120v1M517.5 118v1M518.5 328v1M519.5 327v1M520.5 326v1M521.5 325v1M522.5 324v1M523.5 323v1M524.5 322v1M525.5 321v1M528.5 319v1M529.5 318v1M530.5 317v1M533.5 315v1M538.5 312v1M541.5 310v1M542.5 308v2M543.5 307v1M544.5 306v1M545.5 304v2M546.5 303v1M547.5 301v2M548.5 300v1M549.5 299v1M550.5 297v2M551.5 296v1M552.5 295v1M553.5 294v1M554.5 208v1M554.5 292v2M555.5 291v1M556.5 290v1M557.5 288v2M558.5 287v1M559.5 205v1M559.5 286v1M560.5 285v1M561.5 284v1M564.5 282v1M565.5 281v1M566.5 280v1M567.5 279v1M568.5 278v1M571.5 276v1M572.5 275v1M621.5 269v1M622.5 270v1M623.5 271v1M624.5 272v1M625.5 273v1M626.5 274v1M627.5 275v1M628.5 276v1M629.5 277v1M630.5 278v1M631.5 279v1M632.5 280v1M633.5 281v1M634.5 282v1M640.5 130v1M641.5 131v1M642.5 132v1M643.5 133v1M644.5 134v1M645.5 135v1M645.5 210v1M646.5 136v1M647.5 137v1M648.5 138v1M649.5 139v1M650.5 140v1M651.5 141v2M652.5 143v2M652.5 214v1M653.5 145v2M653.5 281v1M654.5 147v2M654.5 280v1M655.5 149v2M656.5 151v2M657.5 153v2M657.5 278v1M658.5 155v2M659.5 157v2M659.5 218v1M660.5 159v2M660.5 276v1M661.5 161v2M661.5 275v1M662.5 163v2M662.5 274v1M663.5 165v2M663.5 273v1M664.5 167v2M664.5 272v1M665.5 169v2M665.5 271v1M666.5 171v2M666.5 270v1M667.5 173v2M667.5 269v1M668.5 175v2M668.5 268v1M669.5 177v2M669.5 267v1M670.5 179v2M670.5 266v1M671.5 181v1M671.5 265v1M672.5 182v1M672.5 264v1M673.5 183v1M674.5 184v2M675.5 186v1M676.5 187v1M677.5 188v1M740.5 185v1M745.5 182v1M746.5 181v1M747.5 180v1M748.5 179v1M749.5 177v2M750.5 176v1M751.5 175v1M752.5 174v1M753.5 173v1M756.5 171v1M759.5 169v1M762.5 167v1M765.5 165v1M781.5 259v1M782.5 258v1M783.5 257v1M784.5 256v1M785.5 255v1M786.5 254v1M787.5 253v1M788.5 252v1M789.5 251v1M790.5 250v1M791.5 249v1M792.5 248v1M793.5 247v1M796.5 245v1M797.5 244v1M874.5 211v1M877.5 209v1M880.5 207v1M883.5 205v1M895.5 159v1M896.5 158v1M899.5 156v1M900.5 155v1M901.5 154v1M902.5 153v1M905.5 151v1M906.5 150v1M909.5 148v1M912.5 146v1M915.5 144v1M918.5 142v1M921.5 140v1M922.5 139v1M923.5 138v1M926.5 136v1M927.5 135v1M928.5 134v1M929.5 133v1M932.5 131v1M933.5 130v1M934.5 129v1M935.5 128v1M938.5 126v1M939.5 125v1M940.5 124v1M941.5 123v1M942.5 122v1M943.5 121v1M944.5 120v1M945.5 119v1M946.5 118v1M947.5 117v1M948.5 116v1M949.5 115v1M950.5 114v1M951.5 113v1M952.5 112v1M953.5 111v1M954.5 110v1M955.5 109v1M956.5 108v1M957.5 107v1M960.5 105v1M961.5 104v1M964.5 102v1M965.5 101v1M968.5 99v1M969.5 98v1M972.5 96v1M975.5 94v1M978.5 92v1M981.5 90v1M999.5 205v1M1004.5 202v1M1007.5 200v1M1012.5 197v1M1013.5 196v1M1014.5 195v1M1015.5 194v1M1016.5 193v1M1017.5 192v1M1018.5 191v1M1021.5 189v1M1022.5 188v1M1023.5 187v1M1024.5 186v1M1025.5 185v1M1026.5 184v1M1027.5 183v1M1028.5 182v1M1029.5 180v2M1030.5 130v1M1030.5 179v1M1031.5 178v1M1032.5 176v2M1033.5 128v1M1033.5 175v1M1034.5 174v1M1035.5 172v2M1036.5 126v1M1036.5 171v1M1037.5 170v1M1038.5 168v2M1039.5 167v1M1040.5 166v1M1041.5 123v1M1041.5 164v2M1042.5 163v1M1043.5 162v1M1044.5 121v1M1044.5 161v1M1047.5 159v1M1048.5 158v1M1049.5 157v1M1050.5 156v1M1053.5 154v1M1083.5 67v1M1084.5 66v1M1085.5 65v1M1088.5 63v1M1089.5 62v1M1090.5 61v1M1091.5 60v1M1092.5 59v1M1093.5 58v1M1094.5 57v1M1212.5 146v1M1217.5 149v1M1222.5 152v1M1223.5 153v1M1226.5 155v1M1227.5 156v1M1228.5 157v1M1231.5 159v1M1232.5 160v1M1233.5 112v1M1240.5 116v1M1245.5 66v1M1246.5 67v1M1247.5 68v2M1248.5 70v1M1249.5 71v1M1250.5 72v1M1251.5 73v2M1252.5 75v1M1253.5 76v1M1256.5 78v1M1257.5 79v1M1280.5 89v1M1340.5 85v1M1341.5 84v1M1344.5 82v1M1345.5 81v1M1346.5 80v1M1347.5 79v1M1350.5 77v1M1351.5 76v1M1352.5 75v1M1353.5 74v1M1356.5 72v1M1357.5 71v1M1358.5 70v1M1359.5 69v1M1362.5 67v1M1363.5 66v1M1364.5 65v1M1365.5 64v1M1368.5 62v1M1369.5 61v1M1372.5 59v1M1377.5 56v1M1391.5 174v1M1392.5 173v1M1393.5 171v2M1394.5 170v1M1395.5 169v1M1396.5 168v1M1397.5 167v1M1398.5 165v2M1399.5 164v1M1400.5 163v1M1401.5 162v1M1402.5 161v1M1403.5 160v1M1404.5 159v1M1405.5 157v2M1406.5 156v1M1407.5 155v1M1408.5 154v1M1409.5 153v1M1410.5 152v1M1411.5 151v1M1412.5 150v1M1413.5 148v2M1414.5 147v1M1415.5 146v1M1416.5 145v1M1417.5 144v1M1418.5 142v2M1419.5 141v1" fill="none" stroke="#3cb371" stroke-width="1" shape-rendering="crispEdges"/>
<g shape-rendering="crispEdges">
<rect x="5" y="379" width="1" height="101" fill="#000"/>
<rect x="3" y="380" width="5" height="72" fill="#000"/>
<rect x="4" y="381" width="3" height="70" fill="#fff"/>
<rect x="13" y="379" width="1" height="62" fill="#000"/>
<rect x="11" y="380" width="5" height="54" fill="#000"/>
<rect x="21" y="444" width="1" height="13" fill="#000"/>
<rect x="19" y="449" width="5" height="6" fill="#000"/>
<rect x="20" y="450" width="3" height="4" fill="#fff"/>
<rect x="29" y="393" width="1" height="60" fill="#000"/>
<rect x="27" y="395" width="5" height="55" fill="#000"/>
<rect x="28" y="396" width="3" height="53" fill="#fff"/>
<rect x="37" y="386" width="1" height="46" fill="#000"/>
<rect x="35" y="394" width="5" height="38" fill="#000"/>
<rect x="45" y="428" width="1" height="46" fill="#000"/>
<rect x="43" y="431" width="5" height="28" fill="#000"/>
<rect x="53" y="437" width="1" height="45" fill="#000"/>
<rect x="51" y="448" width="5" height="11" fill="#000"/>
<rect x="52" y="449" width="3" height="9" fill="#fff"/>
<rect x="61" y="439" width="1" height="31" fill="#000"/>
<rect x="59" y="448" width="5" height="11" fill="#000"/>
<rect x="69" y="443" width="1" height="4" fill="#000"/>
<rect x="67" y="443" width="5" height="4" fill="#000"/>
<rect x="68" y="444" width="3" height="2" fill="#fff"/>
<rect x="77" y="372" width="1" height="73" fill="#000"/>
<rect x="75" y="374" width="5" height="71" fill="#000"/>
<rect x="76" y="375" width="3" height="69" fill="#fff"/>
<rect x="85" y="332" width="1" height="60" fill="#000"/>
<rect x="83" y="374" width="5" height="6" fill="#000"/>
<rect x="93" y="334" width="1" height="61" fill="#000"/>
<rect x="91" y="335" width="5" height="45" fill="#000"/>
<rect x="92" y="336" width="3" height="43" fill="#fff"/>
<rect x="101" y="311" width="1" height="45" fill="#000"/>
<rect x="99" y="321" width="5" height="16" fill="#000"/>
<rect x="100" y="322" width="3" height="14" fill="#fff"/>
<rect x="109" y="332" width="1" height="11" fill="#000"/>
<rect x="107" y="334" width="5" height="7" fill="#000"/>
<rect x="117" y="325" width="1" height="34" fill="#000"/>
<rect x="115" y="336" width="5" height="3" fill="#000"/>
<rect x="116" y="337" width="3" height="1" fill="#fff"/>
<rect x="125" y="307" width="1" height="38" fill="#000"/>
<rect x="123" y="313" width="5" height="25" fill="#000"/>
<rect x="124" y="314" width="3" height="23" fill="#fff"/>
<rect x="133" y="313" width="1" height="39" fill="#000"/>
<rect x="131" y="313" width="5" height="34" fill="#000"/>
<rect x="141" y="289" width="1" height="64" fill="#000"/>
<rect x="139" y="298" width="5" height="48" fill="#000"/>
<rect x="140" y="299" width="3" height="46" fill="#fff"/>
<rect x="149" y="290" width="1" height="32" fill="#000"/>
<rect x="147" y="298" width="5" height="1" fill="#000"/>
<rect x="157" y="304" width="1" height="7" fill="#000"/>
<rect x="155" y="306" width="5" height="2" fill="#000"/>
<rect x="165" y="295" width="1" height="40" fill="#000"/>
<rect x="163" y="306" width="5" height="23" fill="#000"/>
<rect x="173" y="321" width="1" height="45" fill="#000"/>
<rect x="171" y="327" width="5" height="29" fill="#000"/>
<rect x="181" y="331" width="1" height="35" fill="#000"/>
<rect x="179" y="342" width="5" height="13" fill="#000"/>
<rect x="180" y="343" width="3" height="11" fill="#fff"/>
<rect x="189" y="317" width="1" height="29" fill="#000"/>
<rect x="187" y="342" width="5" height="1" fill="#000"/>
<rect x="197" y="319" width="1" height="30" fill="#000"/>
<rect x="195" y="323" width="5" height="20" fill="#000"/>
<rect x="196" y="324" width="3" height="18" fill="#fff"/>
<rect x="205" y="323" width="1" height="5" fill="#000"/>
<rect x="203" y="325" width="5" height="3" fill="#000"/>
<rect x="204" y="326" width="3" height="1" fill="#fff"/>
<rect x="213" y="301" width="1" height="28" fill="#000"/>
<rect x="211" y="305" width="5" height="22" fill="#000"/>
<rect x="212" y="306" width="3" height="20" fill="#fff"/>
<rect x="221" y="284" width="1" height="29" fill="#000"/>
<rect x="219" y="303" width="5" height="3" fill="#000"/>
<rect x="220" y="304" width="3" height="1" fill="#fff"/>
<rect x="229" y="271" width="1" height="33" fill="#000"/>
<rect x="227" y="277" width="5" height="27" fill="#000"/>
<rect x="228" y="278" width="3" height="25" fill="#fff"/>
<rect x="237" y="266" width="1" height="47" fill="#000"/>
<rect x="235" y="277" width="5" height="28" fill="#000"/>
<rect x="245" y="301" width="1" height="30" fill="#000"/>
<rect x="243" y="303" width="5" height="22" fill="#000"/>
<rect x="253" y="340" width="1" height="6" fill="#000"/>
<rect x="251" y="341" width="5" height="2" fill="#000"/>
<rect x="261" y="322" width="1" height="25" fill="#000"/>
<rect x="259" y="324" width="5" height="19" fill="#000"/>
<rect x="260" y="325" width="3" height="17" fill="#fff"/>
<rect x="269" y="302" width="1" height="22" fill="#000"/>
<rect x="267" y="315" width="5" height="9" fill="#000"/>
<rect x="268" y="316" width="3" height="7" fill="#fff"/>
<rect x="277" y="306" width="1" height="30" fill="#000"/>
<rect x="275" y="315" width="5" height="16" fill="#000"/>
<rect x="285" y="305" width="1" height="26" fill="#000"/>
<rect x="283" y="308" width="5" height="23" fill="#000"/>
<rect x="284" y="309" width="3" height="21" fill="#fff"/>
<rect x="293" y="291" width="1" height="18" fill="#000"/>
<rect x="291" y="291" width="5" height="18" fill="#000"/>
<rect x="292" y="292" width="3" height="16" fill="#fff"/>
<rect x="301" y="286" width="1" height="7" fill="#000"/>
<rect x="299" y="286" width="5" height="7" fill="#000"/>
<rect x="300" y="287" width="3" height="5" fill="#fff"/>
<rect x="309" y="282" width="1" height="27" fill="#000"/>
<rect x="307" y="286" width="5" height="17" fill="#000"/>
<rect x="317" y="291" width="1" height="47" fill="#000"/>
<rect x="315" y="301" width="5" height="36" fill="#000"/>
<rect x="325" y="316" width="1" height="42" fill="#000"/>
<rect x="323" y="334" width="5" height="12" fill="#000"/>
<rect x="333" y="324" width="1" height="48" fill="#000"/>
<rect x="331" y="325" width="5" height="20" fill="#000"/>
<rect x="332" y="326" width="3" height="18" fill="#fff"/>
<rect x="341" y="321" width="1" height="24" fill="#000"/>
<rect x="339" y="325" width="5" height="6" fill="#000"/>
<rect x="349" y="318" width="1" height="5" fill="#000"/>
<rect x="347" y="320" width="5" height="1" fill="#000"/>
<rect x="357" y="275" width="1" height="48" fill="#000"/>
<rect x="355" y="277" width="5" height="44" fill="#000"/>
<rect x="356" y="278" width="3" height="42" fill="#fff"/>
<rect x="365" y="267" width="1" height="36" fill="#000"/>
<rect x="363" y="277" width="5" height="19" fill="#000"/>
<rect x="373" y="276" width="1" height="20" fill="#000"/>
<rect x="371" y="281" width="5" height="15" fill="#000"/>
<rect x="372" y="282" width="3" height="13" fill="#fff"/>
<rect x="381" y="272" width="1" height="19" fill="#000"/>
<rect x="379" y="281" width="5" height="1" fill="#000"/>
<rect x="389" y="280" width="1" height="22" fill="#000"/>
<rect x="387" y="281" width="5" height="4" fill="#000"/>
<rect x="397" y="277" width="1" height="5" fill="#000"/>
<rect x="395" y="278" width="5" height="2" fill="#000"/>
<rect x="405" y="269" width="1" height="17" fill="#000"/>
<rect x="403" y="274" width="5" height="5" fill="#000"/>
<rect x="404" y="275" width="3" height="3" fill="#fff"/>
<rect x="413" y="250" width="1" height="26" fill="#000"/>
<rect x="411" y="257" width="5" height="18" fill="#000"/>
<rect x="412" y="258" width="3" height="16" fill="#fff"/>
<rect x="421" y="223" width="1" height="39" fill="#000"/>
<rect x="419" y="223" width="5" height="34" fill="#000"/>
<rect x="420" y="224" width="3" height="32" fill="#fff"/>
<rect x="429" y="216" width="1" height="25" fill="#000"/>
<rect x="427" y="223" width="5" height="18" fill="#000"/>
<rect x="437" y="230" width="1" height="27" fill="#000"/>
<rect x="435" y="232" width="5" height="9" fill="#000"/>
<rect x="436" y="233" width="3" height="7" fill="#fff"/>
<rect x="445" y="244" width="1" height="6" fill="#000"/>
<rect x="443" y="244" width="5" height="3" fill="#000"/>
<rect x="444" y="245" width="3" height="1" fill="#fff"/>
<rect x="453" y="230" width="1" height="18" fill="#000"/>
<rect x="451" y="240" width="5" height="5" fill="#000"/>
<rect x="452" y="241" width="3" height="3" fill="#fff"/>
<rect x="461" y="215" width="1" height="26" fill="#000"/>
<rect x="459" y="215" width="5" height="26" fill="#000"/>
<rect x="460" y="216" width="3" height="24" fill="#fff"/>
<rect x="469" y="188" width="1" height="30" fill="#000"/>
<rect x="467" y="190" width="5" height="26" fill="#000"/>
<rect x="468" y="191" width="3" height="24" fill="#fff"/>
<rect x="477" y="187" width="1" height="18" fill="#000"/>
<rect x="475" y="190" width="5" height="6" fill="#000"/>
<rect x="485" y="139" width="1" height="58" fill="#000"/>
<rect x="483" y="152" width="5" height="44" fill="#000"/>
<rect x="484" y="153" width="3" height="42" fill="#fff"/>
<rect x="493" y="143" width="1" height="3" fill="#000"/>
<rect x="491" y="143" width="5" height="3" fill="#000"/>
<rect x="492" y="144" width="3" height="1" fill="#fff"/>
<rect x="501" y="127" width="1" height="29" fill="#000"/>
<rect x="499" y="129" width="5" height="15" fill="#000"/>
<rect x="500" y="130" width="3" height="13" fill="#fff"/>
<rect x="509" y="124" width="1" height="27" fill="#000"/>
<rect x="507" y="129" width="5" height="11" fill="#000"/>
<rect x="517" y="131" width="1" height="41" fill="#000"/>
<rect x="515" y="138" width="5" height="31" fill="#000"/>
<rect x="525" y="161" width="1" height="92" fill="#000"/>
<rect x="523" y="168" width="5" height="71" fill="#000"/>
<rect x="533" y="208" width="1" height="45" fill="#000"/>
<rect x="531" y="228" width="5" height="10" fill="#000"/>
<rect x="532" y="229" width="3" height="8" fill="#fff"/>
<rect x="541" y="240" width="1" height="10" fill="#000"/>
<rect x="539" y="241" width="5" height="6" fill="#000"/>
<rect x="549" y="202" width="1" height="78" fill="#000"/>
<rect x="547" y="203" width="5" height="44" fill="#000"/>
<rect x="548" y="204" width="3" height="42" fill="#fff"/>
<rect x="557" y="167" width="1" height="51" fill="#000"/>
<rect x="555" y="194" width="5" height="10" fill="#000"/>
<rect x="556" y="195" width="3" height="8" fill="#fff"/>
<rect x="565" y="181" width="1" height="33" fill="#000"/>
<rect x="563" y="193" width="5" height="20" fill="#000"/>
<rect x="573" y="198" width="1" height="29" fill="#000"/>
<rect x="571" y="202" width="5" height="11" fill="#000"/>
<rect x="572" y="203" width="3" height="9" fill="#fff"/>
<rect x="581" y="190" width="1" height="41" fill="#000"/>
<rect x="579" y="202" width="5" height="28" fill="#000"/>
<rect x="589" y="232" width="1" height="7" fill="#000"/>
<rect x="587" y="232" width="5" height="3" fill="#000"/>
<rect x="597" y="200" width="1" height="36" fill="#000"/>
<rect x="595" y="202" width="5" height="31" fill="#000"/>
<rect x="596" y="203" width="3" height="29" fill="#fff"/>
<rect x="605" y="191" width="1" height="41" fill="#000"/>
<rect x="603" y="202" width="5" height="6" fill="#000"/>
<rect x="613" y="199" width="1" height="50" fill="#000"/>
<rect x="611" y="207" width="5" height="36" fill="#000"/>
<rect x="621" y="222" width="1" height="35" fill="#000"/>
<rect x="619" y="228" width="5" height="13" fill="#000"/>
<rect x="620" y="229" width="3" height="11" fill="#fff"/>
<rect x="629" y="223" width="1" height="42" fill="#000"/>
<rect x="627" y="229" width="5" height="30" fill="#000"/>
<rect x="637" y="259" width="1" height="9" fill="#000"/>
<rect x="635" y="262" width="5" height="3" fill="#000"/>
<rect x="636" y="263" width="3" height="1" fill="#fff"/>
<rect x="645" y="225" width="1" height="41" fill="#000"/>
<rect x="643" y="228" width="5" height="34" fill="#000"/>
<rect x="644" y="229" width="3" height="32" fill="#fff"/>
<rect x="653" y="217" width="1" height="24" fill="#000"/>
<rect x="651" y="226" width="5" height="3" fill="#000"/>
<rect x="652" y="227" width="3" height="1" fill="#fff"/>
<rect x="661" y="211" width="1" height="27" fill="#000"/>
<rect x="659" y="226" width="5" height="1" fill="#000"/>
<rect x="669" y="201" width="1" height="30" fill="#000"/>
<rect x="667" y="218" width="5" height="11" fill="#000"/>
<rect x="668" y="219" width="3" height="9" fill="#fff"/>
<rect x="677" y="212" width="1" height="23" fill="#000"/>
<rect x="675" y="220" width="5" height="6" fill="#000"/>
<rect x="685" y="213" width="1" height="6" fill="#000"/>
<rect x="683" y="214" width="5" height="4" fill="#000"/>
<rect x="684" y="215" width="3" height="2" fill="#fff"/>
<rect x="693" y="193" width="1" height="23" fill="#000"/>
<rect x="691" y="195" width="5" height="21" fill="#000"/>
<rect x="692" y="196" width="3" height="19" fill="#fff"/>
<rect x="701" y="191" width="1" height="28" fill="#000"/>
<rect x="699" y="195" width="5" height="21" fill="#000"/>
<rect x="709" y="204" width="1" height="20" fill="#000"/>
<rect x="707" y="206" width="5" height="10" fill="#000"/>
<rect x="708" y="207" width="3" height="8" fill="#fff"/>
<rect x="717" y="204" width="1" height="33" fill="#000"/>
<rect x="715" y="206" width="5" height="17" fill="#000"/>
<rect x="725" y="206" width="1" height="37" fill="#000"/>
<rect x="723" y="207" width="5" height="16" fill="#000"/>
<rect x="724" y="208" width="3" height="14" fill="#fff"/>
<rect x="733" y="199" width="1" height="5" fill="#000"/>
<rect x="731" y="199" width="5" height="5" fill="#000"/>
<rect x="741" y="179" width="1" height="33" fill="#000"/>
<rect x="739" y="202" width="5" height="3" fill="#000"/>
<rect x="749" y="165" width="1" height="48" fill="#000"/>
<rect x="747" y="167" width="5" height="38" fill="#000"/>
<rect x="748" y="168" width="3" height="36" fill="#fff"/>
<rect x="757" y="152" width="1" height="27" fill="#000"/>
<rect x="755" y="168" width="5" height="1" fill="#000"/>
<rect x="765" y="168" width="1" height="16" fill="#000"/>
<rect x="763" y="168" width="5" height="8" fill="#000"/>
<rect x="773" y="169" width="1" height="13" fill="#000"/>
<rect x="771" y="175" width="5" height="7" fill="#000"/>
<rect x="781" y="176" width="1" height="3" fill="#000"/>
<rect x="779" y="176" width="5" height="3" fill="#000"/>
<rect x="780" y="177" width="3" height="1" fill="#fff"/>
<rect x="789" y="173" width="1" height="18" fill="#000"/>
<rect x="787" y="176" width="5" height="1" fill="#000"/>
<rect x="797" y="160" width="1" height="18" fill="#000"/>
<rect x="795" y="166" width="5" height="11" fill="#000"/>
<rect x="796" y="167" width="3" height="9" fill="#fff"/>
<rect x="805" y="159" width="1" height="22" fill="#000"/>
<rect x="803" y="164" width="5" height="5" fill="#000"/>
<rect x="804" y="165" width="3" height="3" fill="#fff"/>
<rect x="813" y="153" width="1" height="32" fill="#000"/>
<rect x="811" y="164" width="5" height="15" fill="#000"/>
<rect x="821" y="175" width="1" height="18" fill="#000"/>
<rect x="819" y="178" width="5" height="13" fill="#000"/>
<rect x="829" y="188" width="1" height="8" fill="#000"/>
<rect x="827" y="190" width="5" height="1" fill="#000"/>
<rect x="837" y="179" width="1" height="14" fill="#000"/>
<rect x="835" y="180" width="5" height="11" fill="#000"/>
<rect x="836" y="181" width="3" height="9" fill="#fff"/>
<rect x="845" y="176" width="1" height="19" fill="#000"/>
<rect x="843" y="180" width="5" height="11" fill="#000"/>
<rect x="853" y="181" width="1" height="17" fill="#000"/>
<rect x="851" y="184" width="5" height="8" fill="#000"/>
<rect x="852" y="185" width="3" height="6" fill="#fff"/>
<rect x="861" y="184" width="1" height="29" fill="#000"/>
<rect x="859" y="186" width="5" height="1" fill="#000"/>
<rect x="869" y="185" width="1" height="27" fill="#000"/>
<rect x="867" y="185" width="5" height="6" fill="#000"/>
<rect x="877" y="189" width="1" height="6" fill="#000"/>
<rect x="875" y="189" width="5" height="2" fill="#000"/>
<rect x="885" y="175" width="1" height="22" fill="#000"/>
<rect x="883" y="178" width="5" height="12" fill="#000"/>
<rect x="884" y="179" width="3" height="10" fill="#fff"/>
<rect x="893" y="167" width="1" height="18" fill="#000"/>
<rect x="891" y="169" width="5" height="10" fill="#000"/>
<rect x="892" y="170" width="3" height="8" fill="#fff"/>
<rect x="901" y="150" width="1" height="23" fill="#000"/>
<rect x="899" y="151" width="5" height="20" fill="#000"/>
<rect x="900" y="152" width="3" height="18" fill="#fff"/>
<rect x="909" y="141" width="1" height="19" fill="#000"/>
<rect x="907" y="143" width="5" height="10" fill="#000"/>
<rect x="908" y="144" width="3" height="8" fill="#fff"/>
<rect x="917" y="137" width="1" height="14" fill="#000"/>
<rect x="915" y="139" width="5" height="5" fill="#000"/>
<rect x="916" y="140" width="3" height="3" fill="#fff"/>
<rect x="925" y="140" width="1" height="4" fill="#000"/>
<rect x="923" y="140" width="5" height="4" fill="#000"/>
<rect x="924" y="141" width="3" height="2" fill="#fff"/>
<rect x="933" y="121" width="1" height="22" fill="#000"/>
<rect x="931" y="121" width="5" height="20" fill="#000"/>
<rect x="932" y="122" width="3" height="18" fill="#fff"/>
<rect x="941" y="102" width="1" height="29" fill="#000"/>
<rect x="939" y="121" width="5" height="4" fill="#000"/>
<rect x="949" y="108" width="1" height="19" fill="#000"/>
<rect x="947" y="112" width="5" height="12" fill="#000"/>
<rect x="948" y="113" width="3" height="10" fill="#fff"/>
<rect x="957" y="109" width="1" height="12" fill="#000"/>
<rect x="955" y="111" width="5" height="2" fill="#000"/>
<rect x="965" y="110" width="1" height="17" fill="#000"/>
<rect x="963" y="111" width="5" height="7" fill="#000"/>
<rect x="973" y="112" width="1" height="4" fill="#000"/>
<rect x="971" y="112" width="5" height="3" fill="#000"/>
<rect x="981" y="109" width="1" height="12" fill="#000"/>
<rect x="979" y="112" width="5" height="3" fill="#000"/>
<rect x="989" y="111" width="1" height="17" fill="#000"/>
<rect x="987" y="114" width="5" height="7" fill="#000"/>
<rect x="997" y="114" width="1" height="16" fill="#000"/>
<rect x="995" y="120" width="5" height="9" fill="#000"/>
<rect x="1005" y="118" width="1" height="20" fill="#000"/>
<rect x="1003" y="118" width="5" height="11" fill="#000"/>
<rect x="1004" y="119" width="3" height="9" fill="#fff"/>
<rect x="1013" y="110" width="1" height="24" fill="#000"/>
<rect x="1011" y="114" width="5" height="5" fill="#000"/>
<rect x="1012" y="115" width="3" height="3" fill="#fff"/>
<rect x="1021" y="108" width="1" height="5" fill="#000"/>
<rect x="1019" y="109" width="5" height="2" fill="#000"/>
<rect x="1029" y="91" width="1" height="22" fill="#000"/>
<rect x="1027" y="91" width="5" height="20" fill="#000"/>
<rect x="1028" y="92" width="3" height="18" fill="#fff"/>
<rect x="1037" y="82" width="1" height="23" fill="#000"/>
<rect x="1035" y="91" width="5" height="6" fill="#000"/>
<rect x="1045" y="89" width="1" height="14" fill="#000"/>
<rect x="1043" y="91" width="5" height="6" fill="#000"/>
<rect x="1044" y="92" width="3" height="4" fill="#fff"/>
<rect x="1053" y="76" width="1" height="23" fill="#000"/>
<rect x="1051" y="79" width="5" height="13" fill="#000"/>
<rect x="1052" y="80" width="3" height="11" fill="#fff"/>
<rect x="1061" y="70" width="1" height="15" fill="#000"/>
<rect x="1059" y="75" width="5" height="6" fill="#000"/>
<rect x="1060" y="76" width="3" height="4" fill="#fff"/>
<rect x="1069" y="68" width="1" height="4" fill="#000"/>
<rect x="1067" y="68" width="5" height="4" fill="#000"/>
<rect x="1068" y="69" width="3" height="2" fill="#fff"/>
<rect x="1077" y="67" width="1" height="24" fill="#000"/>
<rect x="1075" y="68" width="5" height="18" fill="#000"/>
<rect x="1085" y="70" width="1" height="24" fill="#000"/>
<rect x="1083" y="71" width="5" height="15" fill="#000"/>
<rect x="1084" y="72" width="3" height="13" fill="#fff"/>
<rect x="1093" y="48" width="1" height="27" fill="#000"/>
<rect x="1091" y="51" width="5" height="21" fill="#000"/>
<rect x="1092" y="52" width="3" height="19" fill="#fff"/>
<rect x="1101" y="47" width="1" height="58" fill="#000"/>
<rect x="1099" y="51" width="5" height="48" fill="#000"/>
<rect x="1109" y="76" width="1" height="49" fill="#000"/>
<rect x="1107" y="98" width="5" height="6" fill="#000"/>
<rect x="1117" y="100" width="1" height="6" fill="#000"/>
<rect x="1115" y="104" width="5" height="1" fill="#000"/>
<rect x="1125" y="88" width="1" height="21" fill="#000"/>
<rect x="1123" y="89" width="5" height="14" fill="#000"/>
<rect x="1124" y="90" width="3" height="12" fill="#fff"/>
<rect x="1133" y="85" width="1" height="63" fill="#000"/>
<rect x="1131" y="89" width="5" height="47" fill="#000"/>
<rect x="1141" y="96" width="1" height="43" fill="#000"/>
<rect x="1139" y="104" width="5" height="32" fill="#000"/>
<rect x="1140" y="105" width="3" height="30" fill="#fff"/>
<rect x="1149" y="98" width="1" height="38" fill="#000"/>
<rect x="1147" y="105" width="5" height="22" fill="#000"/>
<rect x="1157" y="114" width="1" height="21" fill="#000"/>
<rect x="1155" y="126" width="5" height="1" fill="#000"/>
<rect x="1165" y="116" width="1" height="4" fill="#000"/>
<rect x="1163" y="116" width="5" height="3" fill="#000"/>
<rect x="1164" y="117" width="3" height="1" fill="#fff"/>
<rect x="1173" y="101" width="1" height="18" fill="#000"/>
<rect x="1171" y="106" width="5" height="11" fill="#000"/>
<rect x="1172" y="107" width="3" height="9" fill="#fff"/>
<rect x="1181" y="93" width="1" height="20" fill="#000"/>
<rect x="1179" y="105" width="5" height="8" fill="#000"/>
<rect x="1189" y="93" width="1" height="22" fill="#000"/>
<rect x="1187" y="108" width="5" height="5" fill="#000"/>
<rect x="1188" y="109" width="3" height="3" fill="#fff"/>
<rect x="1197" y="108" width="1" height="28" fill="#000"/>
<rect x="1195" y="108" width="5" height="9" fill="#000"/>
<rect x="1205" y="114" width="1" height="24" fill="#000"/>
<rect x="1203" y="116" width="5" height="11" fill="#000"/>
<rect x="1213" y="125" width="1" height="7" fill="#000"/>
<rect x="1211" y="127" width="5" height="2" fill="#000"/>
<rect x="1221" y="123" width="1" height="55" fill="#000"/>
<rect x="1219" y="128" width="5" height="24" fill="#000"/>
<rect x="1229" y="144" width="1" height="20" fill="#000"/>
<rect x="1227" y="144" width="5" height="7" fill="#000"/>
<rect x="1228" y="145" width="3" height="5" fill="#fff"/>
<rect x="1237" y="136" width="1" height="45" fill="#000"/>
<rect x="1235" y="144" width="5" height="34" fill="#000"/>
<rect x="1245" y="157" width="1" height="30" fill="#000"/>
<rect x="1243" y="165" width="5" height="13" fill="#000"/>
<rect x="1244" y="166" width="3" height="11" fill="#fff"/>
<rect x="1253" y="150" width="1" height="35" fill="#000"/>
<rect x="1251" y="153" width="5" height="13" fill="#000"/>
<rect x="1252" y="154" width="3" height="11" fill="#fff"/>
<rect x="1261" y="148" width="1" height="5" fill="#000"/>
<rect x="1259" y="148" width="5" height="2" fill="#000"/>
<rect x="1269" y="126" width="1" height="27" fill="#000"/>
<rect x="1267" y="129" width="5" height="21" fill="#000"/>
<rect x="1268" y="130" width="3" height="19" fill="#fff"/>
<rect x="1277" y="125" width="1" height="21" fill="#000"/>
<rect x="1275" y="129" width="5" height="7" fill="#000"/>
<rect x="1285" y="110" width="1" height="45" fill="#000"/>
<rect x="1283" y="118" width="5" height="18" fill="#000"/>
<rect x="1284" y="119" width="3" height="16" fill="#fff"/>
<rect x="1293" y="108" width="1" height="21" fill="#000"/>
<rect x="1291" y="117" width="5" height="6" fill="#000"/>
<rect x="1301" y="119" width="1" height="32" fill="#000"/>
<rect x="1299" y="122" width="5" height="6" fill="#000"/>
<rect x="1309" y="117" width="1" height="4" fill="#000"/>
<rect x="1307" y="118" width="5" height="1" fill="#000"/>
<rect x="1317" y="104" width="1" height="21" fill="#000"/>
<rect x="1315" y="106" width="5" height="14" fill="#000"/>
<rect x="1316" y="107" width="3" height="12" fill="#fff"/>
<rect x="1325" y="94" width="1" height="37" fill="#000"/>
<rect x="1323" y="106" width="5" height="19" fill="#000"/>
<rect x="1333" y="94" width="1" height="33" fill="#000"/>
<rect x="1331" y="95" width="5" height="30" fill="#000"/>
<rect x="1332" y="96" width="3" height="28" fill="#fff"/>
<rect x="1341" y="84" width="1" height="16" fill="#000"/>
<rect x="1339" y="86" width="5" height="9" fill="#000"/>
<rect x="1340" y="87" width="3" height="7" fill="#fff"/>
<rect x="1349" y="79" width="1" height="11" fill="#000"/>
<rect x="1347" y="79" width="5" height="6" fill="#000"/>
<rect x="1348" y="80" width="3" height="4" fill="#fff"/>
<rect x="1357" y="79" width="1" height="5" fill="#000"/>
<rect x="1355" y="79" width="5" height="5" fill="#000"/>
<rect x="1356" y="80" width="3" height="3" fill="#fff"/>
<rect x="1365" y="67" width="1" height="14" fill="#000"/>
<rect x="1363" y="67" width="5" height="13" fill="#000"/>
<rect x="1364" y="68" width="3" height="11" fill="#fff"/>
<rect x="1373" y="66" width="1" height="13" fill="#000"/>
<rect x="1371" y="67" width="5" height="10" fill="#000"/>
<rect x="1381" y="71" width="1" height="19" fill="#000"/>
<rect x="1379" y="75" width="5" height="4" fill="#000"/>
<rect x="1389" y="78" width="1" height="27" fill="#000"/>
<rect x="1387" y="80" width="5" height="5" fill="#000"/>
<rect x="1397" y="69" width="1" height="22" fill="#000"/>
<rect x="1395" y="82" width="5" height="5" fill="#000"/>
<rect x="1405" y="79" width="1" height="5" fill="#000"/>
<rect x="1403" y="79" width="5" height="5" fill="#000"/>
<rect x="1404" y="80" width="3" height="3" fill="#fff"/>
<rect x="1413" y="72" width="1" height="34" fill="#000"/>
<rect x="1411" y="85" width="5" height="11" fill="#000"/>
<rect x="1421" y="86" width="1" height="19" fill="#000"/>
<rect x="1419" y="92" width="5" height="4" fill="#000"/>
<rect x="1420" y="93" width="3" height="2" fill="#fff"/>
<rect x="1429" y="90" width="1" height="14" fill="#000"/>
<rect x="1427" y="92" width="5" height="9" fill="#000"/>
</g>
<rect x="438.5" y="115.5" width="61" height="18" fill="#fff" stroke="#ff0000" stroke-width="1" shape-rendering="crispEdges"/>
<rect x="499" y="124" width="11" height="1" fill="#ff0000" shape-rendering="crispEdges"/>
<text x="469.0" y="130.6" font-family="Liberation Sans, sans-serif" font-size="17" fill="#ff0000" text-anchor="middle" textLength="58" lengthAdjust="spacingAndGlyphs">27636.8</text>
<rect x="864.5" y="70.5" width="73" height="24" fill="#fff" stroke="#ff0000" stroke-width="1" shape-rendering="crispEdges"/>
<text x="901.0" y="91.3" font-family="Liberation Sans, sans-serif" font-size="24.5" fill="#ff0000" text-anchor="middle" textLength="70" lengthAdjust="spacingAndGlyphs">28463.0</text>
<rect x="1022.5" y="41.5" width="61" height="18" fill="#fff" stroke="#ff0000" stroke-width="1" shape-rendering="crispEdges"/>
<rect x="1083" y="50" width="12" height="1" fill="#ff0000" shape-rendering="crispEdges"/>
<text x="1053.0" y="56.6" font-family="Liberation Sans, sans-serif" font-size="17" fill="#ff0000" text-anchor="middle" textLength="58" lengthAdjust="spacingAndGlyphs">29119.7</text>
<rect x="1174.5" y="175.5" width="61" height="18" fill="#fff" stroke="#ff0000" stroke-width="1" shape-rendering="crispEdges"/>
<rect x="1235" y="184" width="11" height="1" fill="#ff0000" shape-rendering="crispEdges"/>
<text x="1205.0" y="190.6" font-family="Liberation Sans, sans-serif" font-size="17" fill="#ff0000" text-anchor="middle" textLength="58" lengthAdjust="spacingAndGlyphs">26429.3</text>
<rect x="1253" y="78" width="196" height="7" fill="#00ff00" shape-rendering="crispEdges"/>
<line x1="1248.0" y1="177.5" x2="1359.2" y2="67.9" stroke="#ff0000" stroke-width="3.2" shape-rendering="crispEdges"/>
<polygon points="1366.0,61.2 1361.1,72.6 1354.5,65.9" fill="#ff0000" shape-rendering="crispEdges"/>
<line x1="1366.0" y1="64.0" x2="1435.9" y2="90.8" stroke="#ff0000" stroke-width="3.2" shape-rendering="crispEdges"/>
<polygon points="1444.8,94.2 1432.4,94.5 1435.7,85.7" fill="#ff0000" shape-rendering="crispEdges"/>
<rect x="1462.5" y="62.5" width="110" height="24" fill="none" stroke="#404040" stroke-width="1" shape-rendering="crispEdges"/>
<rect x="1515.5" y="60.5" width="2" height="2" fill="none" stroke="#00d000" stroke-width="1" shape-rendering="crispEdges"/>
<text x="1464.2" y="80.3" font-family="Liberation Serif, Noto Serif CJK SC, serif" font-weight="400" font-size="19" letter-spacing="2.9" fill="#00ff00">多空转折点</text>
<g shape-rendering="crispEdges">
<rect x="5" y="637" width="1" height="78" fill="#c0c0c0"/>
<rect x="13" y="637" width="1" height="70" fill="#c0c0c0"/>
<rect x="21" y="637" width="1" height="65" fill="#c0c0c0"/>
<rect x="29" y="637" width="1" height="56" fill="#c0c0c0"/>
<rect x="37" y="637" width="1" height="51" fill="#c0c0c0"/>
<rect x="45" y="637" width="1" height="49" fill="#c0c0c0"/>
<rect x="53" y="637" width="1" height="45" fill="#c0c0c0"/>
<rect x="61" y="637" width="1" height="43" fill="#c0c0c0"/>
<rect x="69" y="637" width="1" height="40" fill="#c0c0c0"/>
<rect x="77" y="637" width="1" height="32" fill="#c0c0c0"/>
<rect x="85" y="637" width="1" height="25" fill="#c0c0c0"/>
<rect x="93" y="637" width="1" height="17" fill="#c0c0c0"/>
<rect x="101" y="637" width="1" height="9" fill="#c0c0c0"/>
<rect x="109" y="637" width="1" height="4" fill="#c0c0c0"/>
<rect x="125" y="633" width="1" height="5" fill="#c0c0c0"/>
<rect x="133" y="631" width="1" height="7" fill="#c0c0c0"/>
<rect x="141" y="626" width="1" height="12" fill="#c0c0c0"/>
<rect x="149" y="623" width="1" height="15" fill="#c0c0c0"/>
<rect x="157" y="621" width="1" height="17" fill="#c0c0c0"/>
<rect x="165" y="621" width="1" height="17" fill="#c0c0c0"/>
<rect x="173" y="624" width="1" height="14" fill="#c0c0c0"/>
<rect x="181" y="626" width="1" height="12" fill="#c0c0c0"/>
<rect x="189" y="626" width="1" height="12" fill="#c0c0c0"/>
<rect x="197" y="625" width="1" height="13" fill="#c0c0c0"/>
<rect x="205" y="624" width="1" height="14" fill="#c0c0c0"/>
<rect x="213" y="624" width="1" height="14" fill="#c0c0c0"/>
<rect x="221" y="623" width="1" height="15" fill="#c0c0c0"/>
<rect x="229" y="620" width="1" height="18" fill="#c0c0c0"/>
<rect x="237" y="620" width="1" height="18" fill="#c0c0c0"/>
<rect x="245" y="622" width="1" height="16" fill="#c0c0c0"/>
<rect x="253" y="625" width="1" height="13" fill="#c0c0c0"/>
<rect x="261" y="626" width="1" height="12" fill="#c0c0c0"/>
<rect x="269" y="627" width="1" height="11" fill="#c0c0c0"/>
<rect x="277" y="628" width="1" height="10" fill="#c0c0c0"/>
<rect x="285" y="628" width="1" height="10" fill="#c0c0c0"/>
<rect x="293" y="626" width="1" height="12" fill="#c0c0c0"/>
<rect x="301" y="625" width="1" height="13" fill="#c0c0c0"/>
<rect x="309" y="626" width="1" height="12" fill="#c0c0c0"/>
<rect x="317" y="628" width="1" height="10" fill="#c0c0c0"/>
<rect x="325" y="631" width="1" height="7" fill="#c0c0c0"/>
<rect x="333" y="632" width="1" height="6" fill="#c0c0c0"/>
<rect x="341" y="633" width="1" height="5" fill="#c0c0c0"/>
<rect x="349" y="634" width="1" height="4" fill="#c0c0c0"/>
<rect x="357" y="631" width="1" height="7" fill="#c0c0c0"/>
<rect x="365" y="630" width="1" height="8" fill="#c0c0c0"/>
<rect x="373" y="628" width="1" height="10" fill="#c0c0c0"/>
<rect x="381" y="627" width="1" height="11" fill="#c0c0c0"/>
<rect x="389" y="626" width="1" height="12" fill="#c0c0c0"/>
<rect x="397" y="626" width="1" height="12" fill="#c0c0c0"/>
<rect x="405" y="625" width="1" height="13" fill="#c0c0c0"/>
<rect x="413" y="623" width="1" height="15" fill="#c0c0c0"/>
<rect x="421" y="619" width="1" height="19" fill="#c0c0c0"/>
<rect x="429" y="618" width="1" height="20" fill="#c0c0c0"/>
<rect x="437" y="616" width="1" height="22" fill="#c0c0c0"/>
<rect x="445" y="616" width="1" height="22" fill="#c0c0c0"/>
<rect x="453" y="616" width="1" height="22" fill="#c0c0c0"/>
<rect x="461" y="615" width="1" height="23" fill="#c0c0c0"/>
<rect x="469" y="612" width="1" height="26" fill="#c0c0c0"/>
<rect x="477" y="610" width="1" height="28" fill="#c0c0c0"/>
<rect x="485" y="606" width="1" height="32" fill="#c0c0c0"/>
<rect x="493" y="602" width="1" height="36" fill="#c0c0c0"/>
<rect x="501" y="599" width="1" height="39" fill="#c0c0c0"/>
<rect x="509" y="598" width="1" height="40" fill="#c0c0c0"/>
<rect x="517" y="599" width="1" height="39" fill="#c0c0c0"/>
<rect x="525" y="606" width="1" height="32" fill="#c0c0c0"/>
<rect x="533" y="611" width="1" height="27" fill="#c0c0c0"/>
<rect x="541" y="616" width="1" height="22" fill="#c0c0c0"/>
<rect x="549" y="618" width="1" height="20" fill="#c0c0c0"/>
<rect x="557" y="618" width="1" height="20" fill="#c0c0c0"/>
<rect x="565" y="620" width="1" height="18" fill="#c0c0c0"/>
<rect x="573" y="621" width="1" height="17" fill="#c0c0c0"/>
<rect x="581" y="625" width="1" height="13" fill="#c0c0c0"/>
<rect x="589" y="627" width="1" height="11" fill="#c0c0c0"/>
<rect x="597" y="627" width="1" height="11" fill="#c0c0c0"/>
<rect x="605" y="628" width="1" height="10" fill="#c0c0c0"/>
<rect x="613" y="631" width="1" height="7" fill="#c0c0c0"/>
<rect x="621" y="633" width="1" height="5" fill="#c0c0c0"/>
<rect x="629" y="636" width="1" height="2" fill="#c0c0c0"/>
<rect x="637" y="637" width="1" height="0" fill="#c0c0c0"/>
<rect x="685" y="636" width="1" height="2" fill="#c0c0c0"/>
<rect x="693" y="635" width="1" height="3" fill="#c0c0c0"/>
<rect x="701" y="634" width="1" height="4" fill="#c0c0c0"/>
<rect x="709" y="634" width="1" height="4" fill="#c0c0c0"/>
<rect x="717" y="634" width="1" height="4" fill="#c0c0c0"/>
<rect x="725" y="634" width="1" height="4" fill="#c0c0c0"/>
<rect x="733" y="633" width="1" height="5" fill="#c0c0c0"/>
<rect x="741" y="633" width="1" height="5" fill="#c0c0c0"/>
<rect x="749" y="630" width="1" height="8" fill="#c0c0c0"/>
<rect x="757" y="628" width="1" height="10" fill="#c0c0c0"/>
<rect x="765" y="626" width="1" height="12" fill="#c0c0c0"/>
<rect x="773" y="626" width="1" height="12" fill="#c0c0c0"/>
<rect x="781" y="626" width="1" height="12" fill="#c0c0c0"/>
<rect x="789" y="625" width="1" height="13" fill="#c0c0c0"/>
<rect x="797" y="625" width="1" height="13" fill="#c0c0c0"/>
<rect x="805" y="624" width="1" height="14" fill="#c0c0c0"/>
<rect x="813" y="625" width="1" height="13" fill="#c0c0c0"/>
<rect x="821" y="627" width="1" height="11" fill="#c0c0c0"/>
<rect x="829" y="628" width="1" height="10" fill="#c0c0c0"/>
<rect x="837" y="628" width="1" height="10" fill="#c0c0c0"/>
<rect x="845" y="630" width="1" height="8" fill="#c0c0c0"/>
<rect x="853" y="630" width="1" height="8" fill="#c0c0c0"/>
<rect x="861" y="631" width="1" height="7" fill="#c0c0c0"/>
<rect x="869" y="632" width="1" height="6" fill="#c0c0c0"/>
<rect x="877" y="633" width="1" height="5" fill="#c0c0c0"/>
<rect x="885" y="632" width="1" height="6" fill="#c0c0c0"/>
<rect x="893" y="632" width="1" height="6" fill="#c0c0c0"/>
<rect x="901" y="630" width="1" height="8" fill="#c0c0c0"/>
<rect x="909" y="628" width="1" height="10" fill="#c0c0c0"/>
<rect x="917" y="626" width="1" height="12" fill="#c0c0c0"/>
<rect x="925" y="625" width="1" height="13" fill="#c0c0c0"/>
<rect x="933" y="623" width="1" height="15" fill="#c0c0c0"/>
<rect x="941" y="621" width="1" height="17" fill="#c0c0c0"/>
<rect x="949" y="620" width="1" height="18" fill="#c0c0c0"/>
<rect x="957" y="619" width="1" height="19" fill="#c0c0c0"/>
<rect x="965" y="618" width="1" height="20" fill="#c0c0c0"/>
<rect x="973" y="618" width="1" height="20" fill="#c0c0c0"/>
<rect x="981" y="618" width="1" height="20" fill="#c0c0c0"/>
<rect x="989" y="619" width="1" height="19" fill="#c0c0c0"/>
<rect x="997" y="620" width="1" height="18" fill="#c0c0c0"/>
<rect x="1005" y="621" width="1" height="17" fill="#c0c0c0"/>
<rect x="1013" y="621" width="1" height="17" fill="#c0c0c0"/>
<rect x="1021" y="621" width="1" height="17" fill="#c0c0c0"/>
<rect x="1029" y="620" width="1" height="18" fill="#c0c0c0"/>
<rect x="1037" y="620" width="1" height="18" fill="#c0c0c0"/>
<rect x="1045" y="619" width="1" height="19" fill="#c0c0c0"/>
<rect x="1053" y="618" width="1" height="20" fill="#c0c0c0"/>
<rect x="1061" y="618" width="1" height="20" fill="#c0c0c0"/>
<rect x="1069" y="617" width="1" height="21" fill="#c0c0c0"/>
<rect x="1077" y="617" width="1" height="21" fill="#c0c0c0"/>
<rect x="1085" y="617" width="1" height="21" fill="#c0c0c0"/>
<rect x="1093" y="616" width="1" height="22" fill="#c0c0c0"/>
<rect x="1101" y="618" width="1" height="20" fill="#c0c0c0"/>
<rect x="1109" y="621" width="1" height="17" fill="#c0c0c0"/>
<rect x="1117" y="623" width="1" height="15" fill="#c0c0c0"/>
<rect x="1125" y="624" width="1" height="14" fill="#c0c0c0"/>
<rect x="1133" y="629" width="1" height="9" fill="#c0c0c0"/>
<rect x="1141" y="630" width="1" height="8" fill="#c0c0c0"/>
<rect x="1149" y="632" width="1" height="6" fill="#c0c0c0"/>
<rect x="1157" y="634" width="1" height="4" fill="#c0c0c0"/>
<rect x="1165" y="635" width="1" height="3" fill="#c0c0c0"/>
<rect x="1173" y="635" width="1" height="3" fill="#c0c0c0"/>
<rect x="1181" y="636" width="1" height="2" fill="#c0c0c0"/>
<rect x="1189" y="636" width="1" height="2" fill="#c0c0c0"/>
<rect x="1221" y="637" width="1" height="4" fill="#c0c0c0"/>
<rect x="1229" y="637" width="1" height="5" fill="#c0c0c0"/>
<rect x="1237" y="637" width="1" height="9" fill="#c0c0c0"/>
<rect x="1245" y="637" width="1" height="11" fill="#c0c0c0"/>
<rect x="1253" y="637" width="1" height="11" fill="#c0c0c0"/>
<rect x="1261" y="637" width="1" height="11" fill="#c0c0c0"/>
<rect x="1269" y="637" width="1" height="8" fill="#c0c0c0"/>
<rect x="1277" y="637" width="1" height="8" fill="#c0c0c0"/>
<rect x="1285" y="637" width="1" height="6" fill="#c0c0c0"/>
<rect x="1293" y="637" width="1" height="5" fill="#c0c0c0"/>
<rect x="1301" y="637" width="1" height="4" fill="#c0c0c0"/>
<rect x="1309" y="637" width="1" height="3" fill="#c0c0c0"/>
<rect x="1333" y="636" width="1" height="2" fill="#c0c0c0"/>
<rect x="1341" y="633" width="1" height="5" fill="#c0c0c0"/>
<rect x="1349" y="631" width="1" height="7" fill="#c0c0c0"/>
<rect x="1357" y="630" width="1" height="8" fill="#c0c0c0"/>
<rect x="1365" y="627" width="1" height="11" fill="#c0c0c0"/>
<rect x="1373" y="626" width="1" height="12" fill="#c0c0c0"/>
<rect x="1381" y="626" width="1" height="12" fill="#c0c0c0"/>
<rect x="1389" y="626" width="1" height="12" fill="#c0c0c0"/>
<rect x="1397" y="627" width="1" height="11" fill="#c0c0c0"/>
<rect x="1405" y="628" width="1" height="10" fill="#c0c0c0"/>
<rect x="1413" y="628" width="1" height="10" fill="#c0c0c0"/>
<rect x="1421" y="629" width="1" height="9" fill="#c0c0c0"/>
<rect x="1429" y="630" width="1" height="8" fill="#c0c0c0"/>
<path d="M528 604.5h3M534 604.5h3M540 604.5h3M522 605.5h2M547 605.5h2M511 606.5h2M516 606.5h3M552 606.5h3M558 607.5h3M504 608.5h3M564 608.5h3M499 609.5h2M570 610.5h2M486 612.5h3M492 612.5h3M576 612.5h2M480 614.5h3M582 614.5h2M475 615.5h2M588 616.5h2M468 617.5h3M1092 617.5h3M1098 617.5h3M1104 617.5h3M1110 617.5h3M1116 617.5h3M462 618.5h3M1003 618.5h2M1008 618.5h3M1014 618.5h3M1020 618.5h3M1069 618.5h2M1074 618.5h3M1080 618.5h3M1086 618.5h3M1122 618.5h3M456 619.5h3M595 619.5h2M1128 619.5h3M450 620.5h3M600 620.5h3M978 620.5h3M984 620.5h3M990 620.5h3M996 620.5h3M1027 620.5h2M1032 620.5h3M1038 620.5h3M1044 620.5h3M1050 620.5h3M1056 620.5h3M1062 620.5h3M1134 620.5h3M444 621.5h3M972 621.5h3M1140 621.5h3M252 622.5h3M258 622.5h3M264 622.5h2M438 622.5h3M607 622.5h2M966 622.5h3M1146 622.5h3M204 623.5h3M210 623.5h3M216 623.5h3M222 623.5h3M228 623.5h3M234 623.5h3M240 623.5h3M246 623.5h3M270 623.5h3M276 623.5h3M282 623.5h3M433 623.5h2M612 623.5h3M960 623.5h3M1152 623.5h3M288 624.5h3M294 624.5h2M427 624.5h2M954 624.5h3M186 625.5h3M192 625.5h3M198 625.5h3M300 625.5h3M306 625.5h3M312 625.5h3M318 625.5h3M420 625.5h3M619 625.5h2M810 625.5h3M816 625.5h3M822 625.5h3M828 625.5h3M834 625.5h3M840 625.5h3M846 625.5h3M948 625.5h3M1159 625.5h2M180 626.5h3M324 626.5h3M415 626.5h2M624 626.5h3M804 626.5h3M852 626.5h3M943 626.5h2M1416 626.5h3M1422 626.5h3M175 627.5h2M330 627.5h3M1165 627.5h2M1404 627.5h3M1410 627.5h3M337 628.5h2M342 628.5h3M348 628.5h3M403 628.5h2M408 628.5h3M631 628.5h2M787 628.5h2M792 628.5h3M798 628.5h3M859 628.5h2M864 628.5h3M870 628.5h3M876 628.5h3M930 628.5h3M936 628.5h3M1170 628.5h3M1399 628.5h2M168 629.5h3M924 629.5h3M1176 629.5h2M355 630.5h2M360 630.5h3M366 630.5h3M372 630.5h3M378 630.5h3M384 630.5h3M390 630.5h3M396 630.5h3M637 630.5h2M774 630.5h3M780 630.5h3M883 630.5h2M888 630.5h3M894 630.5h3M900 630.5h3M906 630.5h3M912 630.5h3M918 630.5h3M1182 630.5h3M1386 630.5h3M1392 630.5h3M162 631.5h2M642 631.5h3M762 631.5h3M768 631.5h2M1188 631.5h3M1375 631.5h2M1380 631.5h3M648 632.5h3M654 632.5h3M756 632.5h3M660 633.5h3M750 633.5h3M1195 633.5h2M1368 633.5h3M157 634.5h2M666 634.5h2M732 634.5h3M738 634.5h3M744 634.5h2M1200 634.5h3M1363 634.5h2M726 635.5h3M1206 635.5h3M673 636.5h2M678 636.5h3M684 636.5h3M690 636.5h3M696 636.5h3M702 636.5h3M708 636.5h3M714 636.5h3M720 636.5h3M1212 636.5h3M1218 636.5h3M1357 636.5h2M1224 637.5h3M150 638.5h2M1230 638.5h3M1236 638.5h3M1345 638.5h2M1350 638.5h3M1243 640.5h2M1338 640.5h3M1248 641.5h3M1332 641.5h3M144 642.5h2M1320 642.5h3M1326 642.5h3M1255 643.5h2M1260 644.5h3M1266 644.5h3M1315 644.5h2M1272 645.5h2M138 646.5h2M1278 646.5h3M1284 646.5h3M1290 646.5h3M1296 646.5h3M1302 646.5h3M1308 646.5h3M127 654.5h2M114 663.5h2M108 667.5h2M97 675.5h2M90 679.5h2M85 682.5h2M79 686.5h2M73 690.5h2M61 698.5h2M42 713.5h2M31 722.5h2M25 724.5h2M19 727.5h2M12 730.5h3M6 731.5h3M0 732.5h3M18.5 728v1M24.5 725v1M30.5 723v1M36.5 718v1M37.5 717v1M38.5 716v1M44.5 712v1M48.5 709v1M49.5 708v1M50.5 707v1M54.5 704v1M55.5 703v1M56.5 702v1M60.5 699v1M66.5 695v1M67.5 694v1M68.5 693v1M72.5 691v1M78.5 687v1M84.5 683v1M92.5 678v1M96.5 676v1M102.5 672v1M103.5 671v1M104.5 670v1M110.5 666v1M116.5 662v1M120.5 659v1M121.5 658v1M122.5 657v1M126.5 655v1M132.5 651v1M133.5 650v1M134.5 649v1M140.5 645v1M146.5 641v1M152.5 637v1M156.5 635v1M164.5 630v1M174.5 628v1M266.5 623v1M296.5 625v1M336.5 627v1M354.5 629v1M402.5 629v1M414.5 627v1M426.5 625v1M432.5 624v1M474.5 616v1M498.5 610v1M510.5 607v1M524.5 604v1M546.5 604v1M572.5 611v1M578.5 613v1M584.5 615v1M590.5 617v1M594.5 618v1M606.5 621v1M618.5 624v1M630.5 627v1M636.5 629v1M668.5 635v1M672.5 635v1M746.5 633v1M770.5 630v1M786.5 629v1M858.5 627v1M882.5 629v1M942.5 627v1M1002.5 619v1M1026.5 619v1M1068.5 619v1M1158.5 624v1M1164.5 626v1M1178.5 630v1M1194.5 632v1M1242.5 639v1M1254.5 642v1M1274.5 646v1M1314.5 645v1M1344.5 639v1M1356.5 637v1M1362.5 635v1M1374.5 632v1M1398.5 629v1" fill="none" stroke="#ff0000" stroke-width="1"/>
</g>
<g shape-rendering="crispEdges">
<line x1="0" y1="782.5" x2="1679" y2="782.5" stroke="#c0c0c0" stroke-width="1" stroke-dasharray="3,3" stroke-dashoffset="-2"/>
<line x1="0" y1="833.5" x2="1679" y2="833.5" stroke="#c0c0c0" stroke-width="1" stroke-dasharray="3,3" stroke-dashoffset="-2"/>
<line x1="0" y1="894.5" x2="1679" y2="894.5" stroke="#c0c0c0" stroke-width="1" stroke-dasharray="3,3" stroke-dashoffset="-2"/>
<path d="M1068 787.5h2M500 788.5h2M1066 788.5h2M496 789.5h4M502 789.5h2M1064 789.5h2M492 790.5h4M1058 790.5h6M488 791.5h4M505 791.5h2M1053 791.5h5M486 792.5h2M507 792.5h2M949 792.5h10M1051 792.5h2M1092 792.5h2M947 793.5h2M959 793.5h2M945 794.5h2M934 795.5h4M943 795.5h2M962 795.5h2M1031 795.5h2M1047 795.5h2M938 796.5h5M964 796.5h2M970 796.5h6M1045 796.5h2M966 797.5h4M976 797.5h4M1043 797.5h2M980 798.5h2M1035 798.5h2M1041 798.5h2M470 799.5h2M982 799.5h2M1039 799.5h2M472 800.5h2M474 801.5h2M985 801.5h2M466 802.5h2M476 802.5h2M916 802.5h6M987 802.5h2M1082 802.5h2M912 803.5h4M922 803.5h5M1020 803.5h3M909 804.5h3M1016 804.5h4M906 805.5h3M1013 805.5h3M1078 805.5h2M904 806.5h2M1011 806.5h2M425 807.5h2M902 807.5h2M1008 807.5h3M1006 808.5h2M436 809.5h2M1004 809.5h2M432 810.5h4M438 810.5h2M1366 810.5h2M430 811.5h2M1001 811.5h2M1368 811.5h2M441 812.5h2M1370 812.5h2M749 813.5h10M801 813.5h5M1372 813.5h2M444 814.5h2M450 814.5h5M759 814.5h2M796 814.5h5M1346 814.5h6M411 815.5h2M446 815.5h4M761 815.5h2M794 815.5h2M1341 815.5h5M1352 815.5h4M409 816.5h2M763 816.5h2M792 816.5h2M1339 816.5h2M1356 816.5h3M1376 816.5h2M226 817.5h2M407 817.5h2M765 817.5h2M790 817.5h2M1337 817.5h2M404 818.5h3M767 818.5h2M779 818.5h11M1335 818.5h2M1403 818.5h3M142 819.5h11M400 819.5h4M769 819.5h3M775 819.5h4M892 819.5h2M1380 819.5h2M1399 819.5h4M153 820.5h4M299 820.5h2M359 820.5h2M395 820.5h5M772 820.5h3M890 820.5h2M1382 820.5h17M100 821.5h3M123 821.5h2M157 821.5h2M214 821.5h9M296 821.5h3M301 821.5h2M373 821.5h13M391 821.5h4M96 822.5h4M103 822.5h2M121 822.5h2M127 822.5h2M212 822.5h2M294 822.5h2M303 822.5h2M371 822.5h2M386 822.5h5M887 822.5h2M94 823.5h2M105 823.5h2M119 823.5h2M160 823.5h2M210 823.5h2M292 823.5h2M305 823.5h2M363 823.5h2M369 823.5h2M556 823.5h2M691 823.5h2M107 824.5h2M114 824.5h5M208 824.5h2M290 824.5h2M307 824.5h2M367 824.5h2M552 824.5h4M1125 824.5h2M1317 824.5h2M91 825.5h2M109 825.5h5M131 825.5h2M197 825.5h4M206 825.5h2M550 825.5h2M559 825.5h2M815 825.5h2M835 825.5h2M1314 825.5h3M164 826.5h2M195 826.5h2M201 826.5h5M239 826.5h2M287 826.5h2M573 826.5h2M598 826.5h2M687 826.5h2M729 826.5h13M839 826.5h2M1122 826.5h2M1312 826.5h2M193 827.5h2M571 827.5h2M600 827.5h4M708 827.5h2M725 827.5h4M1310 827.5h2M87 828.5h2M269 828.5h2M284 828.5h2M563 828.5h2M569 828.5h2M604 828.5h2M706 828.5h2M723 828.5h2M819 828.5h2M831 828.5h2M853 828.5h11M1101 828.5h2M1286 828.5h2M78 829.5h4M168 829.5h2M190 829.5h2M243 829.5h2M266 829.5h3M271 829.5h2M567 829.5h2M683 829.5h2M704 829.5h2M711 829.5h2M843 829.5h2M850 829.5h3M864 829.5h2M1103 829.5h4M1288 829.5h4M1414 829.5h9M82 830.5h4M180 830.5h10M264 830.5h2M668 830.5h3M681 830.5h2M702 830.5h2M822 830.5h8M848 830.5h2M866 830.5h3M1107 830.5h12M1292 830.5h3M1423 830.5h4M178 831.5h2M246 831.5h2M261 831.5h3M274 831.5h2M280 831.5h2M349 831.5h2M666 831.5h2M671 831.5h2M719 831.5h2M846 831.5h2M869 831.5h10M1173 831.5h2M1295 831.5h2M1427 831.5h3M172 832.5h2M176 832.5h2M248 832.5h2M259 832.5h2M276 832.5h2M347 832.5h2M651 832.5h4M664 832.5h2M673 832.5h3M678 832.5h2M715 832.5h2M1171 832.5h2M1175 832.5h2M1188 832.5h2M174 833.5h2M250 833.5h2M257 833.5h2M345 833.5h2M647 833.5h4M655 833.5h4M662 833.5h2M676 833.5h2M1169 833.5h2M1177 833.5h2M1186 833.5h2M1190 833.5h2M1298 833.5h2M252 834.5h2M255 834.5h2M334 834.5h4M343 834.5h2M531 834.5h3M645 834.5h2M659 834.5h3M1167 834.5h2M1179 834.5h2M1184 834.5h2M1192 834.5h2M1269 834.5h2M1300 834.5h2M332 835.5h2M338 835.5h5M527 835.5h4M534 835.5h2M581 835.5h5M1165 835.5h2M1181 835.5h3M1194 835.5h2M1271 835.5h3M525 836.5h2M536 836.5h2M586 836.5h5M619 836.5h2M1163 836.5h2M1196 836.5h2M1274 836.5h3M317 837.5h2M329 837.5h2M538 837.5h2M617 837.5h2M1198 837.5h2M1277 837.5h2M319 838.5h2M540 838.5h2M615 838.5h2M1200 838.5h2M31 839.5h2M321 839.5h3M326 839.5h2M1159 839.5h2M1202 839.5h2M9 840.5h2M33 840.5h2M324 840.5h2M1150 840.5h9M1204 840.5h2M35 841.5h2M1206 841.5h4M25 842.5h2M69 842.5h2M1210 842.5h5M38 843.5h2M67 843.5h2M14 844.5h2M40 844.5h2M51 844.5h5M65 844.5h2M629 844.5h2M16 845.5h4M42 845.5h2M47 845.5h4M56 845.5h4M63 845.5h2M631 845.5h4M1133 845.5h2M20 846.5h2M44 846.5h3M60 846.5h3M635 846.5h3M1258 846.5h5M1254 847.5h4M1252 848.5h2M1228 849.5h2M1226 850.5h2M1248 851.5h2M1223 852.5h2M0.5 844v1M1.5 842v2M2.5 841v1M3.5 839v2M4.5 837v2M5.5 836v1M6.5 837v1M7.5 838v1M8.5 839v1M11.5 841v1M12.5 842v1M13.5 843v1M22.5 845v1M23.5 844v1M24.5 843v1M27.5 841v1M28.5 840v1M29.5 839v1M30.5 838v1M37.5 842v1M71.5 840v2M72.5 838v2M73.5 837v1M74.5 835v2M75.5 834v1M76.5 832v2M77.5 830v2M86.5 829v1M89.5 827v1M90.5 826v1M93.5 824v1M125.5 820v1M126.5 821v1M129.5 823v1M130.5 824v1M133.5 826v1M134.5 827v1M135.5 826v1M136.5 825v1M137.5 824v1M138.5 823v1M139.5 822v1M140.5 821v1M141.5 820v1M159.5 822v1M162.5 824v1M163.5 825v1M166.5 827v1M167.5 828v1M170.5 830v1M171.5 831v1M192.5 828v1M223.5 820v1M224.5 819v1M225.5 818v1M228.5 816v1M229.5 815v1M230.5 814v1M231.5 815v2M232.5 817v1M233.5 818v1M234.5 819v2M235.5 821v1M236.5 822v2M237.5 824v1M238.5 825v1M241.5 827v1M242.5 828v1M245.5 830v1M254.5 835v1M273.5 830v1M278.5 833v1M279.5 832v1M282.5 830v1M283.5 829v1M286.5 827v1M289.5 825v1M309.5 825v1M310.5 826v2M311.5 828v1M312.5 829v2M313.5 831v1M314.5 832v2M315.5 834v1M316.5 835v2M328.5 838v1M331.5 836v1M351.5 829v2M352.5 827v2M353.5 825v2M354.5 823v2M355.5 821v2M356.5 819v2M357.5 818v1M358.5 819v1M361.5 821v1M362.5 822v1M365.5 824v1M366.5 825v1M413.5 814v1M414.5 812v2M415.5 811v1M416.5 810v1M417.5 808v2M418.5 807v1M419.5 806v1M420.5 804v2M421.5 803v1M422.5 804v1M423.5 805v1M424.5 806v1M427.5 808v1M428.5 809v1M429.5 810v1M440.5 811v1M443.5 813v1M455.5 813v1M456.5 812v1M457.5 811v1M458.5 810v1M459.5 809v1M460.5 808v1M461.5 807v1M462.5 806v1M463.5 805v1M464.5 804v1M465.5 803v1M468.5 801v1M469.5 800v1M478.5 801v1M479.5 800v1M480.5 799v1M481.5 798v1M482.5 796v2M483.5 795v1M484.5 794v1M485.5 793v1M504.5 790v1M509.5 793v1M510.5 794v2M511.5 796v2M512.5 798v2M513.5 800v2M514.5 802v2M515.5 804v2M516.5 806v2M517.5 808v3M518.5 811v4M519.5 815v3M520.5 818v3M521.5 821v4M522.5 825v3M523.5 828v3M524.5 831v4M525.5 835v1M542.5 839v1M543.5 837v2M544.5 835v2M545.5 833v2M546.5 832v1M547.5 830v2M548.5 828v2M549.5 826v2M558.5 824v1M561.5 826v1M562.5 827v1M565.5 829v1M566.5 830v1M575.5 827v1M576.5 828v2M577.5 830v1M578.5 831v1M579.5 832v2M580.5 834v1M591.5 835v1M592.5 833v2M593.5 832v1M594.5 831v1M595.5 830v1M596.5 828v2M597.5 827v1M606.5 829v1M607.5 830v2M608.5 832v1M609.5 833v1M610.5 834v1M611.5 835v1M612.5 836v2M613.5 838v1M614.5 839v1M621.5 835v1M622.5 836v1M623.5 837v1M624.5 838v1M625.5 839v2M626.5 841v1M627.5 842v1M628.5 843v1M638.5 844v2M639.5 843v1M640.5 841v2M641.5 840v1M642.5 838v2M643.5 837v1M644.5 835v2M680.5 831v1M685.5 828v1M686.5 827v1M689.5 825v1M690.5 824v1M693.5 822v1M694.5 821v1M695.5 822v1M696.5 823v1M697.5 824v1M698.5 825v2M699.5 827v1M700.5 828v1M701.5 829v1M710.5 828v1M713.5 830v1M714.5 831v1M717.5 833v1M718.5 832v1M721.5 830v1M722.5 829v1M742.5 824v2M743.5 822v2M744.5 821v1M745.5 819v2M746.5 818v1M747.5 816v2M748.5 814v2M806.5 814v1M807.5 815v2M808.5 817v1M809.5 818v1M810.5 819v1M811.5 820v2M812.5 822v1M813.5 823v1M814.5 824v1M817.5 826v1M818.5 827v1M821.5 829v1M830.5 829v1M833.5 827v1M834.5 826v1M837.5 824v1M838.5 825v1M841.5 827v1M842.5 828v1M845.5 830v1M879.5 830v1M880.5 829v1M881.5 828v1M882.5 827v1M883.5 826v1M884.5 825v1M885.5 824v1M886.5 823v1M889.5 821v1M894.5 818v1M895.5 816v2M896.5 815v1M897.5 814v1M898.5 812v2M899.5 811v1M900.5 810v1M901.5 808v2M927.5 802v1M928.5 801v1M929.5 800v1M930.5 799v1M931.5 798v1M932.5 797v1M933.5 796v1M961.5 794v1M984.5 800v1M989.5 803v1M990.5 804v1M991.5 805v2M992.5 807v1M993.5 808v1M994.5 809v1M995.5 810v1M996.5 811v2M997.5 813v1M998.5 814v1M999.5 813v1M1000.5 812v1M1003.5 810v1M1023.5 801v2M1024.5 800v1M1025.5 799v1M1026.5 797v2M1027.5 796v1M1028.5 794v2M1029.5 793v1M1030.5 794v1M1033.5 796v1M1034.5 797v1M1037.5 799v1M1038.5 800v1M1049.5 794v1M1050.5 793v1M1069.5 788v1M1070.5 789v2M1071.5 791v2M1072.5 793v2M1073.5 795v2M1074.5 797v2M1075.5 799v2M1076.5 801v2M1077.5 803v2M1078.5 806v1M1080.5 804v1M1081.5 803v1M1084.5 801v1M1085.5 800v1M1086.5 799v1M1087.5 798v1M1088.5 797v1M1089.5 796v1M1090.5 794v2M1091.5 793v1M1093.5 791v1M1093.5 793v1M1094.5 794v4M1095.5 798v5M1096.5 803v5M1097.5 808v4M1098.5 812v5M1099.5 817v5M1100.5 822v4M1101.5 826v2M1119.5 829v1M1120.5 828v1M1121.5 827v1M1124.5 825v1M1126.5 823v1M1127.5 825v3M1128.5 828v4M1129.5 832v3M1130.5 835v3M1131.5 838v4M1132.5 842v3M1133.5 846v1M1134.5 844v1M1135.5 842v2M1136.5 840v2M1137.5 838v2M1138.5 836v2M1139.5 834v2M1140.5 832v2M1141.5 831v1M1142.5 832v1M1143.5 833v1M1144.5 834v1M1145.5 835v1M1146.5 836v1M1147.5 837v1M1148.5 838v1M1149.5 839v1M1161.5 838v1M1162.5 837v1M1215.5 843v2M1216.5 845v1M1217.5 846v1M1218.5 847v2M1219.5 849v1M1220.5 850v1M1221.5 851v2M1222.5 853v1M1225.5 851v1M1230.5 848v1M1231.5 849v2M1232.5 851v2M1233.5 853v2M1234.5 855v1M1235.5 856v2M1236.5 858v2M1237.5 860v2M1238.5 862v1M1239.5 861v1M1240.5 860v1M1241.5 859v1M1242.5 857v2M1243.5 856v1M1244.5 855v1M1245.5 854v1M1246.5 853v1M1247.5 852v1M1250.5 850v1M1251.5 849v1M1263.5 844v2M1264.5 842v2M1265.5 841v1M1266.5 839v2M1267.5 837v2M1268.5 835v2M1279.5 836v1M1280.5 835v1M1281.5 834v1M1282.5 832v2M1283.5 831v1M1284.5 830v1M1285.5 829v1M1297.5 832v1M1302.5 835v1M1303.5 834v1M1304.5 833v1M1305.5 832v1M1306.5 831v1M1307.5 830v1M1308.5 829v1M1309.5 828v1M1319.5 825v1M1320.5 826v2M1321.5 828v1M1322.5 829v1M1323.5 830v1M1324.5 831v2M1325.5 833v1M1326.5 834v1M1327.5 832v2M1328.5 830v2M1329.5 828v2M1330.5 826v2M1331.5 824v2M1332.5 822v2M1333.5 820v2M1334.5 819v1M1359.5 815v1M1360.5 814v1M1361.5 813v1M1362.5 812v1M1363.5 811v1M1364.5 810v1M1365.5 809v1M1374.5 814v1M1375.5 815v1M1378.5 817v1M1379.5 818v1M1406.5 819v1M1407.5 820v2M1408.5 822v1M1409.5 823v1M1410.5 824v1M1411.5 825v1M1412.5 826v2M1413.5 828v1" fill="none" stroke="#1e90ff" stroke-width="1"/>
</g>
<line x1="1237.5" y1="857.3" x2="1346.2" y2="809.5" stroke="#ff0000" stroke-width="3.0" shape-rendering="crispEdges"/>
<polygon points="1354.0,806.1 1346.2,814.4 1342.6,806.3" fill="#ff0000" shape-rendering="crispEdges"/>
<line x1="1354.0" y1="807.0" x2="1423.7" y2="829.1" stroke="#ff0000" stroke-width="3.0" shape-rendering="crispEdges"/>
<polygon points="1431.8,831.7 1420.5,832.7 1423.1,824.3" fill="#ff0000" shape-rendering="crispEdges"/>
<g shape-rendering="crispEdges" fill="#000">
<rect x="1680" y="22" width="2" height="1"/>
<rect x="1680" y="55" width="2" height="1"/>
<rect x="1680" y="88" width="2" height="1"/>
<rect x="1680" y="121" width="2" height="1"/>
<rect x="1680" y="154" width="2" height="1"/>
<rect x="1680" y="187" width="2" height="1"/>
<rect x="1680" y="220" width="2" height="1"/>
<rect x="1680" y="253" width="2" height="1"/>
<rect x="1680" y="286" width="2" height="1"/>
<rect x="1680" y="319" width="2" height="1"/>
<rect x="1680" y="352" width="2" height="1"/>
<rect x="1680" y="385" width="2" height="1"/>
<rect x="1680" y="418" width="2" height="1"/>
<rect x="1680" y="451" width="2" height="1"/>
<rect x="1680" y="484" width="2" height="1"/>
<rect x="1680" y="517" width="2" height="1"/>
<rect x="1680" y="550" width="2" height="1"/>
<rect x="1680" y="583" width="2" height="1"/>
<rect x="1680" y="590" width="1" height="1"/>
<rect x="1680" y="637" width="1" height="1"/>
<rect x="1680" y="743" width="1" height="1"/>
<rect x="1680" y="748" width="1" height="1"/>
<rect x="1680" y="919" width="1" height="1"/>
<rect x="53" y="921" width="1" height="3"/>
<rect x="117" y="921" width="1" height="3"/>
<rect x="181" y="921" width="1" height="3"/>
<rect x="245" y="921" width="1" height="3"/>
<rect x="309" y="921" width="1" height="3"/>
<rect x="373" y="921" width="1" height="3"/>
<rect x="437" y="921" width="1" height="3"/>
<rect x="501" y="921" width="1" height="3"/>
<rect x="565" y="921" width="1" height="3"/>
<rect x="629" y="921" width="1" height="3"/>
<rect x="693" y="921" width="1" height="3"/>
<rect x="757" y="921" width="1" height="3"/>
<rect x="821" y="921" width="1" height="3"/>
<rect x="885" y="921" width="1" height="3"/>
<rect x="949" y="921" width="1" height="3"/>
<rect x="1013" y="921" width="1" height="3"/>
<rect x="1077" y="921" width="1" height="3"/>
<rect x="1141" y="921" width="1" height="3"/>
<rect x="1205" y="921" width="1" height="3"/>
<rect x="1269" y="921" width="1" height="3"/>
<rect x="1333" y="921" width="1" height="3"/>
<rect x="1397" y="921" width="1" height="3"/>
</g>
<text transform="translate(1685.4,25.95) scale(0.905,1)" font-family="Liberation Sans, sans-serif" font-size="9.9" fill="#000" stroke="#000" stroke-width="0.22" text-anchor="start" letter-spacing="0" word-spacing="0.9"  text-rendering="geometricPrecision">29670.0</text>
<text transform="translate(1685.4,59.25) scale(0.905,1)" font-family="Liberation Sans, sans-serif" font-size="9.9" fill="#000" stroke="#000" stroke-width="0.22" text-anchor="start" letter-spacing="0" word-spacing="0.9"  text-rendering="geometricPrecision">29007.5</text>
<text transform="translate(1685.4,92.25) scale(0.905,1)" font-family="Liberation Sans, sans-serif" font-size="9.9" fill="#000" stroke="#000" stroke-width="0.22" text-anchor="start" letter-spacing="0" word-spacing="0.9"  text-rendering="geometricPrecision">28344.5</text>
<text transform="translate(1685.4,157.75) scale(0.905,1)" font-family="Liberation Sans, sans-serif" font-size="9.9" fill="#000" stroke="#000" stroke-width="0.22" text-anchor="start" letter-spacing="0" word-spacing="0.9"  text-rendering="geometricPrecision">27018.5</text>
<text transform="translate(1685.4,190.75) scale(0.905,1)" font-family="Liberation Sans, sans-serif" font-size="9.9" fill="#000" stroke="#000" stroke-width="0.22" text-anchor="start" letter-spacing="0" word-spacing="0.9"  text-rendering="geometricPrecision">26375.0</text>
<text transform="translate(1685.4,223.75) scale(0.905,1)" font-family="Liberation Sans, sans-serif" font-size="9.9" fill="#000" stroke="#000" stroke-width="0.22" text-anchor="start" letter-spacing="0" word-spacing="0.9"  text-rendering="geometricPrecision">25712.0</text>
<text transform="translate(1685.4,256.75) scale(0.905,1)" font-family="Liberation Sans, sans-serif" font-size="9.9" fill="#000" stroke="#000" stroke-width="0.22" text-anchor="start" letter-spacing="0" word-spacing="0.9"  text-rendering="geometricPrecision">25049.0</text>
<text transform="translate(1685.4,289.75) scale(0.905,1)" font-family="Liberation Sans, sans-serif" font-size="9.9" fill="#000" stroke="#000" stroke-width="0.22" text-anchor="start" letter-spacing="0" word-spacing="0.9"  text-rendering="geometricPrecision">24386.0</text>
<text transform="translate(1685.4,322.75) scale(0.905,1)" font-family="Liberation Sans, sans-serif" font-size="9.9" fill="#000" stroke="#000" stroke-width="0.22" text-anchor="start" letter-spacing="0" word-spacing="0.9"  text-rendering="geometricPrecision">23723.0</text>
<text transform="translate(1685.4,355.75) scale(0.905,1)" font-family="Liberation Sans, sans-serif" font-size="9.9" fill="#000" stroke="#000" stroke-width="0.22" text-anchor="start" letter-spacing="0" word-spacing="0.9"  text-rendering="geometricPrecision">23060.0</text>
<text transform="translate(1685.4,388.75) scale(0.905,1)" font-family="Liberation Sans, sans-serif" font-size="9.9" fill="#000" stroke="#000" stroke-width="0.22" text-anchor="start" letter-spacing="0" word-spacing="0.9"  text-rendering="geometricPrecision">22397.0</text>
<text transform="translate(1685.4,421.75) scale(0.905,1)" font-family="Liberation Sans, sans-serif" font-size="9.9" fill="#000" stroke="#000" stroke-width="0.22" text-anchor="start" letter-spacing="0" word-spacing="0.9"  text-rendering="geometricPrecision">21734.0</text>
<text transform="translate(1685.4,454.75) scale(0.905,1)" font-family="Liberation Sans, sans-serif" font-size="9.9" fill="#000" stroke="#000" stroke-width="0.22" text-anchor="start" letter-spacing="0" word-spacing="0.9"  text-rendering="geometricPrecision">21071.0</text>
<text transform="translate(1685.4,487.75) scale(0.905,1)" font-family="Liberation Sans, sans-serif" font-size="9.9" fill="#000" stroke="#000" stroke-width="0.22" text-anchor="start" letter-spacing="0" word-spacing="0.9"  text-rendering="geometricPrecision">20408.0</text>
<text transform="translate(1685.4,520.75) scale(0.905,1)" font-family="Liberation Sans, sans-serif" font-size="9.9" fill="#000" stroke="#000" stroke-width="0.22" text-anchor="start" letter-spacing="0" word-spacing="0.9"  text-rendering="geometricPrecision">19745.0</text>
<text transform="translate(1685.4,553.75) scale(0.905,1)" font-family="Liberation Sans, sans-serif" font-size="9.9" fill="#000" stroke="#000" stroke-width="0.22" text-anchor="start" letter-spacing="0" word-spacing="0.9"  text-rendering="geometricPrecision">19082.0</text>
<text transform="translate(1685.4,586.75) scale(0.905,1)" font-family="Liberation Sans, sans-serif" font-size="9.9" fill="#000" stroke="#000" stroke-width="0.22" text-anchor="start" letter-spacing="0" word-spacing="0.9"  text-rendering="geometricPrecision">18438.5</text>
<rect x="1681" y="20" width="41" height="11" fill="#ff0000" shape-rendering="crispEdges"/>
<text transform="translate(1685.4,28.75) scale(0.905,1)" font-family="Liberation Sans, sans-serif" font-size="9.9" fill="#fff" stroke="#fff" stroke-width="0.22" text-anchor="start" letter-spacing="0" word-spacing="0.9"  text-rendering="geometricPrecision">29585.7</text>
<rect x="1681" y="45" width="41" height="11" fill="#ff0000" shape-rendering="crispEdges"/>
<text transform="translate(1685.4,53.75) scale(0.905,1)" font-family="Liberation Sans, sans-serif" font-size="9.9" fill="#fff" stroke="#fff" stroke-width="0.22" text-anchor="start" letter-spacing="0" word-spacing="0.9"  text-rendering="geometricPrecision">29098.5</text>
<rect x="1681" y="76" width="41" height="11" fill="#32cd32" shape-rendering="crispEdges"/>
<text transform="translate(1685.4,84.75) scale(0.905,1)" font-family="Liberation Sans, sans-serif" font-size="9.9" fill="#fff" stroke="#fff" stroke-width="0.22" text-anchor="start" letter-spacing="0" word-spacing="0.9"  text-rendering="geometricPrecision">28463.0</text>
<rect x="1681" y="94" width="41" height="11" fill="#000" shape-rendering="crispEdges"/>
<text transform="translate(1685.4,102.75) scale(0.905,1)" font-family="Liberation Sans, sans-serif" font-size="9.9" fill="#fff" stroke="#fff" stroke-width="0.22" text-anchor="start" letter-spacing="0" word-spacing="0.9"  text-rendering="geometricPrecision">28128.0</text>
<rect x="1681" y="114" width="41" height="11" fill="#0000ff" shape-rendering="crispEdges"/>
<text transform="translate(1685.4,122.75) scale(0.905,1)" font-family="Liberation Sans, sans-serif" font-size="9.9" fill="#fff" stroke="#fff" stroke-width="0.22" text-anchor="start" letter-spacing="0" word-spacing="0.9"  text-rendering="geometricPrecision">27700.4</text>
<rect x="1681" y="137" width="41" height="11" fill="#0000ff" shape-rendering="crispEdges"/>
<text transform="translate(1685.4,145.75) scale(0.905,1)" font-family="Liberation Sans, sans-serif" font-size="9.9" fill="#fff" stroke="#fff" stroke-width="0.22" text-anchor="start" letter-spacing="0" word-spacing="0.9"  text-rendering="geometricPrecision">27255.5</text>
<text transform="translate(1683.5,598.85) scale(0.905,1)" font-family="Liberation Sans, sans-serif" font-size="9.9" fill="#000" stroke="#000" stroke-width="0.22" text-anchor="start" letter-spacing="0" word-spacing="0.9"  text-rendering="geometricPrecision">1017.15</text>
<text transform="translate(1683.5,640.65) scale(0.905,1)" font-family="Liberation Sans, sans-serif" font-size="9.9" fill="#000" stroke="#000" stroke-width="0.22" text-anchor="start" letter-spacing="0" word-spacing="0.9"  text-rendering="geometricPrecision">0.00</text>
<text transform="translate(1683.5,741.15) scale(0.905,1)" font-family="Liberation Sans, sans-serif" font-size="9.9" fill="#000" stroke="#000" stroke-width="0.22" text-anchor="start" letter-spacing="0" word-spacing="0.9"  text-rendering="geometricPrecision">-2278.36</text>
<text transform="translate(1683.5,757.05) scale(0.905,1)" font-family="Liberation Sans, sans-serif" font-size="9.9" fill="#000" stroke="#000" stroke-width="0.22" text-anchor="start" letter-spacing="0" word-spacing="0.9"  text-rendering="geometricPrecision">100</text>
<text transform="translate(1682.5,785.65) scale(0.905,1)" font-family="Liberation Sans, sans-serif" font-size="9.9" fill="#000" stroke="#000" stroke-width="0.22" text-anchor="start" letter-spacing="0" word-spacing="0.9"  text-rendering="geometricPrecision">80</text>
<text transform="translate(1682.5,836.85) scale(0.905,1)" font-family="Liberation Sans, sans-serif" font-size="9.9" fill="#000" stroke="#000" stroke-width="0.22" text-anchor="start" letter-spacing="0" word-spacing="0.9"  text-rendering="geometricPrecision">50</text>
<text transform="translate(1682.5,897.65) scale(0.905,1)" font-family="Liberation Sans, sans-serif" font-size="9.9" fill="#000" stroke="#000" stroke-width="0.22" text-anchor="start" letter-spacing="0" word-spacing="0.9"  text-rendering="geometricPrecision">15</text>
<text transform="translate(1683.5,916.85) scale(0.905,1)" font-family="Liberation Sans, sans-serif" font-size="9.9" fill="#000" stroke="#000" stroke-width="0.22" text-anchor="start" letter-spacing="0" word-spacing="0.9"  text-rendering="geometricPrecision">0</text>
<text transform="translate(-12,932.85) scale(0.925,1)" font-family="Liberation Sans, sans-serif" font-size="9.9" fill="#000" stroke="#000" stroke-width="0.22" text-anchor="start" letter-spacing="0" word-spacing="0.9"  text-rendering="geometricPrecision">24 Mar 2020</text>
<text transform="translate(52,932.85) scale(0.925,1)" font-family="Liberation Sans, sans-serif" font-size="9.9" fill="#000" stroke="#000" stroke-width="0.22" text-anchor="start" letter-spacing="0" word-spacing="0.9"  text-rendering="geometricPrecision">2 Apr 2020</text>
<text transform="translate(116,932.85) scale(0.925,1)" font-family="Liberation Sans, sans-serif" font-size="9.9" fill="#000" stroke="#000" stroke-width="0.22" text-anchor="start" letter-spacing="0" word-spacing="0.9"  text-rendering="geometricPrecision">13 Apr 2020</text>
<text transform="translate(180,932.85) scale(0.925,1)" font-family="Liberation Sans, sans-serif" font-size="9.9" fill="#000" stroke="#000" stroke-width="0.22" text-anchor="start" letter-spacing="0" word-spacing="0.9"  text-rendering="geometricPrecision">22 Apr 2020</text>
<text transform="translate(244,932.85) scale(0.925,1)" font-family="Liberation Sans, sans-serif" font-size="9.9" fill="#000" stroke="#000" stroke-width="0.22" text-anchor="start" letter-spacing="0" word-spacing="0.9"  text-rendering="geometricPrecision">1 May 2020</text>
<text transform="translate(308,932.85) scale(0.925,1)" font-family="Liberation Sans, sans-serif" font-size="9.9" fill="#000" stroke="#000" stroke-width="0.22" text-anchor="start" letter-spacing="0" word-spacing="0.9"  text-rendering="geometricPrecision">11 May 2020</text>
<text transform="translate(372,932.85) scale(0.925,1)" font-family="Liberation Sans, sans-serif" font-size="9.9" fill="#000" stroke="#000" stroke-width="0.22" text-anchor="start" letter-spacing="0" word-spacing="0.9"  text-rendering="geometricPrecision">20 May 2020</text>
<text transform="translate(436,932.85) scale(0.925,1)" font-family="Liberation Sans, sans-serif" font-size="9.9" fill="#000" stroke="#000" stroke-width="0.22" text-anchor="start" letter-spacing="0" word-spacing="0.9"  text-rendering="geometricPrecision">29 May 2020</text>
<text transform="translate(500,932.85) scale(0.925,1)" font-family="Liberation Sans, sans-serif" font-size="9.9" fill="#000" stroke="#000" stroke-width="0.22" text-anchor="start" letter-spacing="0" word-spacing="0.9"  text-rendering="geometricPrecision">8 Jun 2020</text>
<text transform="translate(564,932.85) scale(0.925,1)" font-family="Liberation Sans, sans-serif" font-size="9.9" fill="#000" stroke="#000" stroke-width="0.22" text-anchor="start" letter-spacing="0" word-spacing="0.9"  text-rendering="geometricPrecision">17 Jun 2020</text>
<text transform="translate(628,932.85) scale(0.925,1)" font-family="Liberation Sans, sans-serif" font-size="9.9" fill="#000" stroke="#000" stroke-width="0.22" text-anchor="start" letter-spacing="0" word-spacing="0.9"  text-rendering="geometricPrecision">26 Jun 2020</text>
<text transform="translate(692,932.85) scale(0.925,1)" font-family="Liberation Sans, sans-serif" font-size="9.9" fill="#000" stroke="#000" stroke-width="0.22" text-anchor="start" letter-spacing="0" word-spacing="0.9"  text-rendering="geometricPrecision">6 Jul 2020</text>
<text transform="translate(756,932.85) scale(0.925,1)" font-family="Liberation Sans, sans-serif" font-size="9.9" fill="#000" stroke="#000" stroke-width="0.22" text-anchor="start" letter-spacing="0" word-spacing="0.9"  text-rendering="geometricPrecision">15 Jul 2020</text>
<text transform="translate(820,932.85) scale(0.925,1)" font-family="Liberation Sans, sans-serif" font-size="9.9" fill="#000" stroke="#000" stroke-width="0.22" text-anchor="start" letter-spacing="0" word-spacing="0.9"  text-rendering="geometricPrecision">24 Jul 2020</text>
<text transform="translate(884,932.85) scale(0.925,1)" font-family="Liberation Sans, sans-serif" font-size="9.9" fill="#000" stroke="#000" stroke-width="0.22" text-anchor="start" letter-spacing="0" word-spacing="0.9"  text-rendering="geometricPrecision">3 Aug 2020</text>
<text transform="translate(948,932.85) scale(0.925,1)" font-family="Liberation Sans, sans-serif" font-size="9.9" fill="#000" stroke="#000" stroke-width="0.22" text-anchor="start" letter-spacing="0" word-spacing="0.9"  text-rendering="geometricPrecision">12 Aug 2020</text>
<text transform="translate(1012,932.85) scale(0.925,1)" font-family="Liberation Sans, sans-serif" font-size="9.9" fill="#000" stroke="#000" stroke-width="0.22" text-anchor="start" letter-spacing="0" word-spacing="0.9"  text-rendering="geometricPrecision">21 Aug 2020</text>
<text transform="translate(1076,932.85) scale(0.925,1)" font-family="Liberation Sans, sans-serif" font-size="9.9" fill="#000" stroke="#000" stroke-width="0.22" text-anchor="start" letter-spacing="0" word-spacing="0.9"  text-rendering="geometricPrecision">31 Aug 2020</text>
<text transform="translate(1140,932.85) scale(0.925,1)" font-family="Liberation Sans, sans-serif" font-size="9.9" fill="#000" stroke="#000" stroke-width="0.22" text-anchor="start" letter-spacing="0" word-spacing="0.9"  text-rendering="geometricPrecision">9 Sep 2020</text>
<text transform="translate(1204,932.85) scale(0.925,1)" font-family="Liberation Sans, sans-serif" font-size="9.9" fill="#000" stroke="#000" stroke-width="0.22" text-anchor="start" letter-spacing="0" word-spacing="0.9"  text-rendering="geometricPrecision">18 Sep 2020</text>
<text transform="translate(1268,932.85) scale(0.925,1)" font-family="Liberation Sans, sans-serif" font-size="9.9" fill="#000" stroke="#000" stroke-width="0.22" text-anchor="start" letter-spacing="0" word-spacing="0.9"  text-rendering="geometricPrecision">28 Sep 2020</text>
<text transform="translate(1332,932.85) scale(0.925,1)" font-family="Liberation Sans, sans-serif" font-size="9.9" fill="#000" stroke="#000" stroke-width="0.22" text-anchor="start" letter-spacing="0" word-spacing="0.9"  text-rendering="geometricPrecision">7 Oct 2020</text>
<text transform="translate(1396,932.85) scale(0.925,1)" font-family="Liberation Sans, sans-serif" font-size="9.9" fill="#000" stroke="#000" stroke-width="0.22" text-anchor="start" letter-spacing="0" word-spacing="0.9"  text-rendering="geometricPrecision">16 Oct 2020</text>
<text transform="translate(4.5,30.85) scale(1,1)" font-family="Liberation Sans, sans-serif" font-size="9.9" fill="#000" stroke="#000" stroke-width="0.22" text-anchor="start" textLength="195.5" lengthAdjust="spacingAndGlyphs"  text-rendering="geometricPrecision">DJ30-,Daily&#160;&#160;28269.0 28373.0 28077.0 28128.0</text>
<text transform="translate(-6.5,600.85) scale(1,1)" font-family="Liberation Sans, sans-serif" font-size="9.9" fill="#000" stroke="#000" stroke-width="0.22" text-anchor="start" textLength="127.5" lengthAdjust="spacingAndGlyphs"  text-rendering="geometricPrecision">MACD(12,26,9) 168.69 227.72</text>
<text transform="translate(-6.3,758.85) scale(1,1)" font-family="Liberation Sans, sans-serif" font-size="9.9" fill="#000" stroke="#000" stroke-width="0.22" text-anchor="start" textLength="67.3" lengthAdjust="spacingAndGlyphs"  text-rendering="geometricPrecision">RSI(14) 50.6740</text>
<g shape-rendering="crispEdges">
<rect x="0" y="39" width="213" height="64" fill="#fff"/>
<rect x="0" y="39" width="44" height="25" fill="url(#rt)"/>
<rect x="159" y="39" width="52" height="25" fill="url(#rt)"/>
<rect x="0" y="63" width="101" height="40" fill="url(#rb)"/>
<rect x="103" y="63" width="108" height="40" fill="url(#rb)"/>
<rect x="0" y="39" width="44" height="1" fill="#c81e1e"/><rect x="43" y="39" width="1" height="24" fill="#c81e1e"/>
<rect x="159" y="39" width="52" height="1" fill="#c81e1e"/><rect x="159" y="39" width="1" height="24" fill="#c81e1e"/><rect x="210" y="39" width="1" height="64" fill="#b81010"/>
<rect x="0" y="62" width="40" height="1" fill="#f08080" opacity="0.7"/><rect x="163" y="62" width="44" height="1" fill="#f08080" opacity="0.7"/>
<rect x="0" y="102" width="101" height="1" fill="#a00000"/><rect x="103" y="102" width="108" height="1" fill="#a00000"/>
<rect x="46.5" y="39.5" width="110" height="21" fill="#fff" stroke="#a9a9b3" stroke-width="1"/>
<rect x="48" y="41" width="19" height="18" fill="url(#gb)"/><rect x="67" y="41" width="1" height="18" fill="#b4b4bc"/>
<rect x="136" y="41" width="20" height="18" fill="url(#gb)"/><rect x="135" y="41" width="1" height="18" fill="#b4b4bc"/>
</g>
<polygon points="54.5,48 59.5,48 57,51" fill="#4a5cc0"/>
<polygon points="143,51.5 148,51.5 145.5,48.5" fill="#4a5cc0"/>
<text x="132" y="54" font-family="Liberation Sans, sans-serif" font-size="12" fill="#000018"  text-anchor="end" letter-spacing="0" >1.00</text>
<text transform="translate(4.4,55) scale(1,1)" font-family="Liberation Sans, sans-serif" font-size="12.4" fill="#fff"  text-anchor="start" textLength="25.6" lengthAdjust="spacingAndGlyphs" >SELL</text>
<text transform="translate(172.6,55) scale(1,1)" font-family="Liberation Sans, sans-serif" font-size="12.4" fill="#fff"  text-anchor="start" textLength="23" lengthAdjust="spacingAndGlyphs" >BUY</text>
<text transform="translate(8.2,93.7) scale(1,1)" font-family="Liberation Sans, sans-serif" font-size="12" fill="#fff"  text-anchor="start" textLength="34.6" lengthAdjust="spacingAndGlyphs" font-weight="bold">28126</text>
<text transform="translate(118.4,93.7) scale(1,1)" font-family="Liberation Sans, sans-serif" font-size="12" fill="#fff"  text-anchor="start" textLength="34.2" lengthAdjust="spacingAndGlyphs" font-weight="bold">28137</text>
<text x="45.3" y="94.2" font-family="Liberation Sans, sans-serif" font-size="30" fill="#fff"  text-anchor="start" letter-spacing="0" >.</text>
<text transform="translate(54.3,94.4) scale(1,1)" font-family="Liberation Sans, sans-serif" font-size="35.5" fill="#fff"  text-anchor="start" textLength="15.2" lengthAdjust="spacingAndGlyphs" >5</text>
<text x="156.1" y="94.2" font-family="Liberation Sans, sans-serif" font-size="30" fill="#fff"  text-anchor="start" letter-spacing="0" >.</text>
<text transform="translate(165.2,94.4) scale(1,1)" font-family="Liberation Sans, sans-serif" font-size="35.5" fill="#fff"  text-anchor="start" textLength="15.2" lengthAdjust="spacingAndGlyphs" >5</text>
</svg>
</body></html>
